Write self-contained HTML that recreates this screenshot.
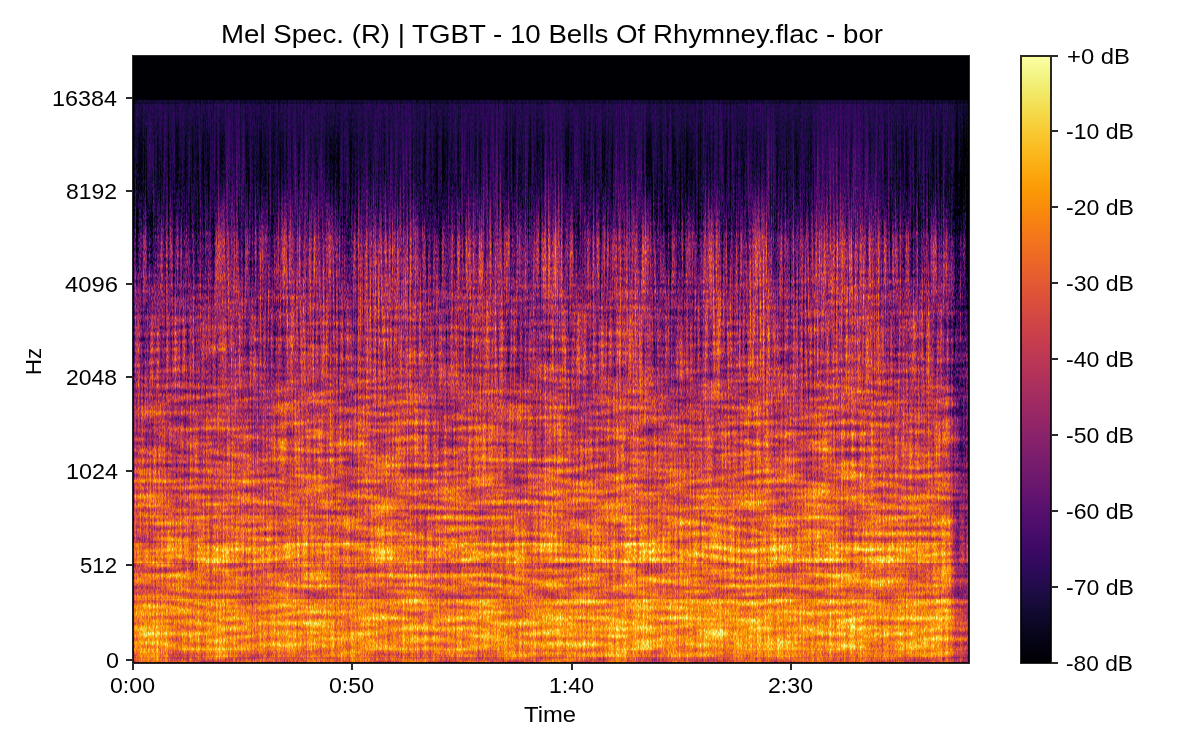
<!DOCTYPE html>
<html><head><meta charset="utf-8"><style>html,body{margin:0;padding:0;background:#fff;width:1200px;height:750px;overflow:hidden}svg{display:block}text{font-family:"Liberation Sans",sans-serif}</style></head>
<body><svg width="1200" height="750" viewBox="0 0 1200 750"><defs><linearGradient id="cb" x1="0" y1="0" x2="0" y2="1"><stop offset="0.0000" stop-color="#fcffa4"/><stop offset="0.0312" stop-color="#f3f586"/><stop offset="0.0625" stop-color="#f2e865"/><stop offset="0.0938" stop-color="#f5d949"/><stop offset="0.1250" stop-color="#f9c932"/><stop offset="0.1562" stop-color="#fbba1f"/><stop offset="0.1875" stop-color="#fcaa0f"/><stop offset="0.2188" stop-color="#fb9b06"/><stop offset="0.2500" stop-color="#f98c0a"/><stop offset="0.2812" stop-color="#f67e14"/><stop offset="0.3125" stop-color="#f1711f"/><stop offset="0.3438" stop-color="#eb6429"/><stop offset="0.3750" stop-color="#e35933"/><stop offset="0.4062" stop-color="#da4e3c"/><stop offset="0.4375" stop-color="#d04545"/><stop offset="0.4688" stop-color="#c63d4d"/><stop offset="0.5000" stop-color="#bc3754"/><stop offset="0.5312" stop-color="#b0315b"/><stop offset="0.5625" stop-color="#a32c61"/><stop offset="0.5938" stop-color="#972766"/><stop offset="0.6250" stop-color="#8a226a"/><stop offset="0.6562" stop-color="#7d1e6d"/><stop offset="0.6875" stop-color="#71196e"/><stop offset="0.7188" stop-color="#64156e"/><stop offset="0.7500" stop-color="#57106e"/><stop offset="0.7812" stop-color="#4a0c6b"/><stop offset="0.8125" stop-color="#3d0965"/><stop offset="0.8438" stop-color="#2f0a5b"/><stop offset="0.8750" stop-color="#210c4a"/><stop offset="0.9062" stop-color="#150b37"/><stop offset="0.9375" stop-color="#0b0724"/><stop offset="0.9688" stop-color="#040312"/><stop offset="1.0000" stop-color="#000004"/></linearGradient><linearGradient id="P" x1="0" y1="0" x2="0" y2="1"><stop offset="0.0000" stop-color="#170000"/><stop offset="0.0071" stop-color="#170000"/><stop offset="0.0089" stop-color="#210000"/><stop offset="0.0311" stop-color="#200000"/><stop offset="0.0719" stop-color="#1c0000"/><stop offset="0.1429" stop-color="#1f0000"/><stop offset="0.1996" stop-color="#2e0000"/><stop offset="0.2280" stop-color="#3b0000"/><stop offset="0.2458" stop-color="#520000"/><stop offset="0.2724" stop-color="#5c0000"/><stop offset="0.3256" stop-color="#660000"/><stop offset="0.4002" stop-color="#6e0000"/><stop offset="0.4889" stop-color="#790000"/><stop offset="0.5776" stop-color="#880000"/><stop offset="0.6664" stop-color="#950000"/><stop offset="0.7107" stop-color="#9e0000"/><stop offset="0.7108" stop-color="#a30000"/><stop offset="0.7285" stop-color="#a30000"/><stop offset="0.7285" stop-color="#940000"/><stop offset="0.7373" stop-color="#940000"/><stop offset="0.7374" stop-color="#a30000"/><stop offset="0.7870" stop-color="#a30000"/><stop offset="0.7871" stop-color="#bd0000"/><stop offset="0.8225" stop-color="#bd0000"/><stop offset="0.8226" stop-color="#9c0000"/><stop offset="0.8403" stop-color="#9c0000"/><stop offset="0.8403" stop-color="#b00000"/><stop offset="0.8651" stop-color="#b00000"/><stop offset="0.8651" stop-color="#a10000"/><stop offset="0.8864" stop-color="#a10000"/><stop offset="0.8864" stop-color="#bb0000"/><stop offset="0.9201" stop-color="#bb0000"/><stop offset="0.9202" stop-color="#c20000"/><stop offset="0.9769" stop-color="#c20000"/><stop offset="0.9769" stop-color="#b30000"/><stop offset="0.9893" stop-color="#b30000"/><stop offset="0.9894" stop-color="#9e0000"/><stop offset="0.9991" stop-color="#9e0000"/></linearGradient><linearGradient id="d0"><stop offset="0.000" stop-color="#008100"/><stop offset="0.050" stop-color="#008100"/><stop offset="0.150" stop-color="#007f00"/><stop offset="0.250" stop-color="#007f00"/><stop offset="0.349" stop-color="#007f00"/><stop offset="0.450" stop-color="#008200"/><stop offset="0.550" stop-color="#008200"/><stop offset="0.650" stop-color="#008000"/><stop offset="0.750" stop-color="#008000"/><stop offset="0.849" stop-color="#008300"/><stop offset="0.950" stop-color="#008100"/><stop offset="1.000" stop-color="#008100"/></linearGradient><linearGradient id="d1"><stop offset="0.000" stop-color="#008100"/><stop offset="0.050" stop-color="#008200"/><stop offset="0.150" stop-color="#007f00"/><stop offset="0.250" stop-color="#007e00"/><stop offset="0.349" stop-color="#007f00"/><stop offset="0.450" stop-color="#008200"/><stop offset="0.550" stop-color="#008300"/><stop offset="0.650" stop-color="#008100"/><stop offset="0.750" stop-color="#008100"/><stop offset="0.849" stop-color="#008300"/><stop offset="0.950" stop-color="#008200"/><stop offset="1.000" stop-color="#008200"/></linearGradient><linearGradient id="d2"><stop offset="0.000" stop-color="#008100"/><stop offset="0.050" stop-color="#008100"/><stop offset="0.150" stop-color="#007f00"/><stop offset="0.250" stop-color="#007e00"/><stop offset="0.349" stop-color="#007f00"/><stop offset="0.450" stop-color="#008200"/><stop offset="0.550" stop-color="#008300"/><stop offset="0.650" stop-color="#008000"/><stop offset="0.750" stop-color="#008200"/><stop offset="0.849" stop-color="#008300"/><stop offset="0.950" stop-color="#008300"/><stop offset="1.000" stop-color="#008300"/></linearGradient><linearGradient id="d3"><stop offset="0.000" stop-color="#008000"/><stop offset="0.050" stop-color="#008100"/><stop offset="0.150" stop-color="#007f00"/><stop offset="0.250" stop-color="#007d00"/><stop offset="0.349" stop-color="#007e00"/><stop offset="0.450" stop-color="#008200"/><stop offset="0.550" stop-color="#008300"/><stop offset="0.650" stop-color="#007f00"/><stop offset="0.750" stop-color="#008300"/><stop offset="0.849" stop-color="#008400"/><stop offset="0.950" stop-color="#008300"/><stop offset="1.000" stop-color="#008300"/></linearGradient><linearGradient id="d4"><stop offset="0.000" stop-color="#007f00"/><stop offset="0.050" stop-color="#008000"/><stop offset="0.150" stop-color="#007f00"/><stop offset="0.250" stop-color="#007d00"/><stop offset="0.349" stop-color="#007d00"/><stop offset="0.450" stop-color="#008200"/><stop offset="0.550" stop-color="#008300"/><stop offset="0.650" stop-color="#007e00"/><stop offset="0.750" stop-color="#008400"/><stop offset="0.849" stop-color="#008500"/><stop offset="0.950" stop-color="#008300"/><stop offset="1.000" stop-color="#008300"/></linearGradient><linearGradient id="d5"><stop offset="0.000" stop-color="#007e00"/><stop offset="0.050" stop-color="#007f00"/><stop offset="0.150" stop-color="#007f00"/><stop offset="0.250" stop-color="#007d00"/><stop offset="0.349" stop-color="#007c00"/><stop offset="0.450" stop-color="#008300"/><stop offset="0.550" stop-color="#008400"/><stop offset="0.650" stop-color="#007e00"/><stop offset="0.750" stop-color="#008500"/><stop offset="0.849" stop-color="#008500"/><stop offset="0.950" stop-color="#008400"/><stop offset="1.000" stop-color="#008400"/></linearGradient><linearGradient id="d6"><stop offset="0.000" stop-color="#007d00"/><stop offset="0.050" stop-color="#007e00"/><stop offset="0.150" stop-color="#008000"/><stop offset="0.250" stop-color="#007d00"/><stop offset="0.349" stop-color="#007c00"/><stop offset="0.450" stop-color="#008400"/><stop offset="0.550" stop-color="#008500"/><stop offset="0.650" stop-color="#007d00"/><stop offset="0.750" stop-color="#008500"/><stop offset="0.849" stop-color="#008500"/><stop offset="0.950" stop-color="#008300"/><stop offset="1.000" stop-color="#008300"/></linearGradient><linearGradient id="d7"><stop offset="0.000" stop-color="#007c00"/><stop offset="0.050" stop-color="#007d00"/><stop offset="0.150" stop-color="#008200"/><stop offset="0.250" stop-color="#007d00"/><stop offset="0.349" stop-color="#007c00"/><stop offset="0.450" stop-color="#008500"/><stop offset="0.550" stop-color="#008700"/><stop offset="0.650" stop-color="#007d00"/><stop offset="0.750" stop-color="#008600"/><stop offset="0.849" stop-color="#008500"/><stop offset="0.950" stop-color="#008300"/><stop offset="1.000" stop-color="#008300"/></linearGradient><linearGradient id="d8"><stop offset="0.000" stop-color="#007b00"/><stop offset="0.050" stop-color="#007c00"/><stop offset="0.150" stop-color="#008300"/><stop offset="0.250" stop-color="#007d00"/><stop offset="0.349" stop-color="#007c00"/><stop offset="0.450" stop-color="#008700"/><stop offset="0.550" stop-color="#008800"/><stop offset="0.650" stop-color="#007d00"/><stop offset="0.750" stop-color="#008600"/><stop offset="0.849" stop-color="#008500"/><stop offset="0.950" stop-color="#008300"/><stop offset="1.000" stop-color="#008300"/></linearGradient><linearGradient id="d9"><stop offset="0.000" stop-color="#007a00"/><stop offset="0.050" stop-color="#007b00"/><stop offset="0.150" stop-color="#008300"/><stop offset="0.250" stop-color="#007d00"/><stop offset="0.349" stop-color="#007c00"/><stop offset="0.450" stop-color="#008700"/><stop offset="0.550" stop-color="#008a00"/><stop offset="0.650" stop-color="#007e00"/><stop offset="0.750" stop-color="#008700"/><stop offset="0.849" stop-color="#008400"/><stop offset="0.950" stop-color="#008400"/><stop offset="1.000" stop-color="#008400"/></linearGradient><linearGradient id="d10"><stop offset="0.000" stop-color="#007900"/><stop offset="0.050" stop-color="#007b00"/><stop offset="0.150" stop-color="#008200"/><stop offset="0.250" stop-color="#007d00"/><stop offset="0.349" stop-color="#007c00"/><stop offset="0.450" stop-color="#008700"/><stop offset="0.550" stop-color="#008b00"/><stop offset="0.650" stop-color="#007f00"/><stop offset="0.750" stop-color="#008800"/><stop offset="0.849" stop-color="#008400"/><stop offset="0.950" stop-color="#008400"/><stop offset="1.000" stop-color="#008400"/></linearGradient><linearGradient id="d11"><stop offset="0.000" stop-color="#007700"/><stop offset="0.050" stop-color="#007900"/><stop offset="0.150" stop-color="#008100"/><stop offset="0.250" stop-color="#007d00"/><stop offset="0.349" stop-color="#007c00"/><stop offset="0.450" stop-color="#008600"/><stop offset="0.550" stop-color="#008d00"/><stop offset="0.650" stop-color="#008000"/><stop offset="0.750" stop-color="#008900"/><stop offset="0.849" stop-color="#008400"/><stop offset="0.950" stop-color="#008500"/><stop offset="1.000" stop-color="#008500"/></linearGradient><linearGradient id="d12"><stop offset="0.000" stop-color="#007600"/><stop offset="0.050" stop-color="#007800"/><stop offset="0.150" stop-color="#007f00"/><stop offset="0.250" stop-color="#007e00"/><stop offset="0.349" stop-color="#007c00"/><stop offset="0.450" stop-color="#008500"/><stop offset="0.550" stop-color="#008e00"/><stop offset="0.650" stop-color="#008100"/><stop offset="0.750" stop-color="#008a00"/><stop offset="0.849" stop-color="#008400"/><stop offset="0.950" stop-color="#008400"/><stop offset="1.000" stop-color="#008500"/></linearGradient><linearGradient id="d13"><stop offset="0.000" stop-color="#007500"/><stop offset="0.050" stop-color="#007700"/><stop offset="0.150" stop-color="#007e00"/><stop offset="0.250" stop-color="#007e00"/><stop offset="0.349" stop-color="#007c00"/><stop offset="0.450" stop-color="#008500"/><stop offset="0.550" stop-color="#008e00"/><stop offset="0.650" stop-color="#008100"/><stop offset="0.750" stop-color="#008b00"/><stop offset="0.849" stop-color="#008400"/><stop offset="0.950" stop-color="#008500"/><stop offset="1.000" stop-color="#008500"/></linearGradient><linearGradient id="d14"><stop offset="0.000" stop-color="#007700"/><stop offset="0.050" stop-color="#007900"/><stop offset="0.150" stop-color="#007e00"/><stop offset="0.250" stop-color="#007d00"/><stop offset="0.349" stop-color="#007e00"/><stop offset="0.450" stop-color="#008300"/><stop offset="0.550" stop-color="#008b00"/><stop offset="0.650" stop-color="#008000"/><stop offset="0.750" stop-color="#008b00"/><stop offset="0.849" stop-color="#008200"/><stop offset="0.950" stop-color="#008600"/><stop offset="1.000" stop-color="#008600"/></linearGradient><linearGradient id="d15"><stop offset="0.000" stop-color="#007800"/><stop offset="0.050" stop-color="#007a00"/><stop offset="0.150" stop-color="#007d00"/><stop offset="0.250" stop-color="#007c00"/><stop offset="0.349" stop-color="#008000"/><stop offset="0.450" stop-color="#008200"/><stop offset="0.550" stop-color="#008900"/><stop offset="0.650" stop-color="#007f00"/><stop offset="0.750" stop-color="#008b00"/><stop offset="0.849" stop-color="#008100"/><stop offset="0.950" stop-color="#008700"/><stop offset="1.000" stop-color="#008700"/></linearGradient><linearGradient id="d16"><stop offset="0.000" stop-color="#007a00"/><stop offset="0.050" stop-color="#007b00"/><stop offset="0.150" stop-color="#007c00"/><stop offset="0.250" stop-color="#007b00"/><stop offset="0.349" stop-color="#008300"/><stop offset="0.450" stop-color="#008100"/><stop offset="0.550" stop-color="#008600"/><stop offset="0.650" stop-color="#007e00"/><stop offset="0.750" stop-color="#008c00"/><stop offset="0.849" stop-color="#008000"/><stop offset="0.950" stop-color="#008900"/><stop offset="1.000" stop-color="#008900"/></linearGradient><linearGradient id="d17"><stop offset="0.000" stop-color="#007a00"/><stop offset="0.050" stop-color="#007c00"/><stop offset="0.150" stop-color="#007c00"/><stop offset="0.250" stop-color="#007b00"/><stop offset="0.349" stop-color="#008400"/><stop offset="0.450" stop-color="#008000"/><stop offset="0.550" stop-color="#008400"/><stop offset="0.650" stop-color="#007e00"/><stop offset="0.750" stop-color="#008c00"/><stop offset="0.849" stop-color="#007f00"/><stop offset="0.950" stop-color="#008900"/><stop offset="1.000" stop-color="#008900"/></linearGradient><linearGradient id="d18"><stop offset="0.000" stop-color="#007a00"/><stop offset="0.050" stop-color="#007b00"/><stop offset="0.150" stop-color="#007b00"/><stop offset="0.250" stop-color="#007c00"/><stop offset="0.349" stop-color="#008300"/><stop offset="0.450" stop-color="#007f00"/><stop offset="0.550" stop-color="#008400"/><stop offset="0.650" stop-color="#007d00"/><stop offset="0.750" stop-color="#008c00"/><stop offset="0.849" stop-color="#007f00"/><stop offset="0.950" stop-color="#008900"/><stop offset="1.000" stop-color="#008900"/></linearGradient><linearGradient id="d19"><stop offset="0.000" stop-color="#007900"/><stop offset="0.050" stop-color="#007b00"/><stop offset="0.150" stop-color="#007b00"/><stop offset="0.250" stop-color="#007d00"/><stop offset="0.349" stop-color="#008200"/><stop offset="0.450" stop-color="#007e00"/><stop offset="0.550" stop-color="#008400"/><stop offset="0.650" stop-color="#007d00"/><stop offset="0.750" stop-color="#008b00"/><stop offset="0.849" stop-color="#008000"/><stop offset="0.950" stop-color="#008900"/><stop offset="1.000" stop-color="#008900"/></linearGradient><linearGradient id="d20"><stop offset="0.000" stop-color="#007900"/><stop offset="0.050" stop-color="#007a00"/><stop offset="0.150" stop-color="#007a00"/><stop offset="0.250" stop-color="#007d00"/><stop offset="0.349" stop-color="#008200"/><stop offset="0.450" stop-color="#007e00"/><stop offset="0.550" stop-color="#008400"/><stop offset="0.650" stop-color="#007d00"/><stop offset="0.750" stop-color="#008b00"/><stop offset="0.849" stop-color="#008000"/><stop offset="0.950" stop-color="#008900"/><stop offset="1.000" stop-color="#008900"/></linearGradient><linearGradient id="d21"><stop offset="0.000" stop-color="#007900"/><stop offset="0.050" stop-color="#007a00"/><stop offset="0.150" stop-color="#007a00"/><stop offset="0.250" stop-color="#007e00"/><stop offset="0.349" stop-color="#008100"/><stop offset="0.450" stop-color="#007e00"/><stop offset="0.550" stop-color="#008400"/><stop offset="0.650" stop-color="#007d00"/><stop offset="0.750" stop-color="#008a00"/><stop offset="0.849" stop-color="#008100"/><stop offset="0.950" stop-color="#008900"/><stop offset="1.000" stop-color="#008900"/></linearGradient><linearGradient id="d22"><stop offset="0.000" stop-color="#007900"/><stop offset="0.050" stop-color="#007a00"/><stop offset="0.150" stop-color="#007a00"/><stop offset="0.250" stop-color="#007f00"/><stop offset="0.349" stop-color="#008100"/><stop offset="0.450" stop-color="#007e00"/><stop offset="0.550" stop-color="#008500"/><stop offset="0.650" stop-color="#007d00"/><stop offset="0.750" stop-color="#008a00"/><stop offset="0.849" stop-color="#008000"/><stop offset="0.950" stop-color="#008800"/><stop offset="1.000" stop-color="#008800"/></linearGradient><linearGradient id="d23"><stop offset="0.000" stop-color="#007900"/><stop offset="0.050" stop-color="#007b00"/><stop offset="0.150" stop-color="#007a00"/><stop offset="0.250" stop-color="#008000"/><stop offset="0.349" stop-color="#008000"/><stop offset="0.450" stop-color="#007f00"/><stop offset="0.550" stop-color="#008500"/><stop offset="0.650" stop-color="#007d00"/><stop offset="0.750" stop-color="#008900"/><stop offset="0.849" stop-color="#008000"/><stop offset="0.950" stop-color="#008800"/><stop offset="1.000" stop-color="#008800"/></linearGradient><linearGradient id="d24"><stop offset="0.000" stop-color="#007a00"/><stop offset="0.050" stop-color="#007b00"/><stop offset="0.150" stop-color="#007a00"/><stop offset="0.250" stop-color="#008100"/><stop offset="0.349" stop-color="#007f00"/><stop offset="0.450" stop-color="#007f00"/><stop offset="0.550" stop-color="#008600"/><stop offset="0.650" stop-color="#007e00"/><stop offset="0.750" stop-color="#008800"/><stop offset="0.849" stop-color="#008000"/><stop offset="0.950" stop-color="#008700"/><stop offset="1.000" stop-color="#008700"/></linearGradient><linearGradient id="d25"><stop offset="0.000" stop-color="#007a00"/><stop offset="0.050" stop-color="#007b00"/><stop offset="0.150" stop-color="#007a00"/><stop offset="0.250" stop-color="#008100"/><stop offset="0.349" stop-color="#007f00"/><stop offset="0.450" stop-color="#008000"/><stop offset="0.550" stop-color="#008600"/><stop offset="0.650" stop-color="#007e00"/><stop offset="0.750" stop-color="#008700"/><stop offset="0.849" stop-color="#008000"/><stop offset="0.950" stop-color="#008600"/><stop offset="1.000" stop-color="#008600"/></linearGradient><linearGradient id="d26"><stop offset="0.000" stop-color="#007900"/><stop offset="0.050" stop-color="#007a00"/><stop offset="0.150" stop-color="#007c00"/><stop offset="0.250" stop-color="#008100"/><stop offset="0.349" stop-color="#007f00"/><stop offset="0.450" stop-color="#008100"/><stop offset="0.550" stop-color="#008500"/><stop offset="0.650" stop-color="#007d00"/><stop offset="0.750" stop-color="#008600"/><stop offset="0.849" stop-color="#007f00"/><stop offset="0.950" stop-color="#008600"/><stop offset="1.000" stop-color="#008600"/></linearGradient><linearGradient id="d27"><stop offset="0.000" stop-color="#007900"/><stop offset="0.050" stop-color="#007a00"/><stop offset="0.150" stop-color="#007d00"/><stop offset="0.250" stop-color="#008000"/><stop offset="0.349" stop-color="#007f00"/><stop offset="0.450" stop-color="#008100"/><stop offset="0.550" stop-color="#008400"/><stop offset="0.650" stop-color="#007d00"/><stop offset="0.750" stop-color="#008500"/><stop offset="0.849" stop-color="#007f00"/><stop offset="0.950" stop-color="#008500"/><stop offset="1.000" stop-color="#008500"/></linearGradient><linearGradient id="d28"><stop offset="0.000" stop-color="#007900"/><stop offset="0.050" stop-color="#007a00"/><stop offset="0.150" stop-color="#007e00"/><stop offset="0.250" stop-color="#008000"/><stop offset="0.349" stop-color="#007f00"/><stop offset="0.450" stop-color="#008200"/><stop offset="0.550" stop-color="#008300"/><stop offset="0.650" stop-color="#007d00"/><stop offset="0.750" stop-color="#008400"/><stop offset="0.849" stop-color="#007f00"/><stop offset="0.950" stop-color="#008500"/><stop offset="1.000" stop-color="#008500"/></linearGradient><linearGradient id="d29"><stop offset="0.000" stop-color="#007900"/><stop offset="0.050" stop-color="#007a00"/><stop offset="0.150" stop-color="#007f00"/><stop offset="0.250" stop-color="#007f00"/><stop offset="0.349" stop-color="#007f00"/><stop offset="0.450" stop-color="#008100"/><stop offset="0.550" stop-color="#008300"/><stop offset="0.650" stop-color="#007e00"/><stop offset="0.750" stop-color="#008400"/><stop offset="0.849" stop-color="#007f00"/><stop offset="0.950" stop-color="#008500"/><stop offset="1.000" stop-color="#008500"/></linearGradient><linearGradient id="d30"><stop offset="0.000" stop-color="#007b00"/><stop offset="0.050" stop-color="#007c00"/><stop offset="0.150" stop-color="#007e00"/><stop offset="0.250" stop-color="#007d00"/><stop offset="0.349" stop-color="#007e00"/><stop offset="0.450" stop-color="#008000"/><stop offset="0.550" stop-color="#008300"/><stop offset="0.650" stop-color="#008000"/><stop offset="0.750" stop-color="#008400"/><stop offset="0.849" stop-color="#007f00"/><stop offset="0.950" stop-color="#008600"/><stop offset="1.000" stop-color="#008600"/></linearGradient><linearGradient id="d31"><stop offset="0.000" stop-color="#007c00"/><stop offset="0.050" stop-color="#007d00"/><stop offset="0.150" stop-color="#007d00"/><stop offset="0.250" stop-color="#007c00"/><stop offset="0.349" stop-color="#007d00"/><stop offset="0.450" stop-color="#007e00"/><stop offset="0.550" stop-color="#008400"/><stop offset="0.650" stop-color="#008200"/><stop offset="0.750" stop-color="#008500"/><stop offset="0.849" stop-color="#008000"/><stop offset="0.950" stop-color="#008600"/><stop offset="1.000" stop-color="#008600"/></linearGradient><linearGradient id="d32"><stop offset="0.000" stop-color="#007e00"/><stop offset="0.050" stop-color="#007e00"/><stop offset="0.150" stop-color="#007c00"/><stop offset="0.250" stop-color="#007b00"/><stop offset="0.349" stop-color="#007c00"/><stop offset="0.450" stop-color="#007c00"/><stop offset="0.550" stop-color="#008400"/><stop offset="0.650" stop-color="#008400"/><stop offset="0.750" stop-color="#008500"/><stop offset="0.849" stop-color="#008000"/><stop offset="0.950" stop-color="#008700"/><stop offset="1.000" stop-color="#008700"/></linearGradient><linearGradient id="d33"><stop offset="0.000" stop-color="#007e00"/><stop offset="0.050" stop-color="#007f00"/><stop offset="0.150" stop-color="#007b00"/><stop offset="0.250" stop-color="#007a00"/><stop offset="0.349" stop-color="#007b00"/><stop offset="0.450" stop-color="#007c00"/><stop offset="0.550" stop-color="#008400"/><stop offset="0.650" stop-color="#008500"/><stop offset="0.750" stop-color="#008500"/><stop offset="0.849" stop-color="#008100"/><stop offset="0.950" stop-color="#008700"/><stop offset="1.000" stop-color="#008700"/></linearGradient><linearGradient id="d34"><stop offset="0.000" stop-color="#007e00"/><stop offset="0.050" stop-color="#007f00"/><stop offset="0.150" stop-color="#007b00"/><stop offset="0.250" stop-color="#007a00"/><stop offset="0.349" stop-color="#007b00"/><stop offset="0.450" stop-color="#007c00"/><stop offset="0.550" stop-color="#008400"/><stop offset="0.650" stop-color="#008500"/><stop offset="0.750" stop-color="#008500"/><stop offset="0.849" stop-color="#008100"/><stop offset="0.950" stop-color="#008700"/><stop offset="1.000" stop-color="#008700"/></linearGradient><linearGradient id="d35"><stop offset="0.000" stop-color="#007e00"/><stop offset="0.050" stop-color="#007f00"/><stop offset="0.150" stop-color="#007b00"/><stop offset="0.250" stop-color="#007a00"/><stop offset="0.349" stop-color="#007b00"/><stop offset="0.450" stop-color="#007c00"/><stop offset="0.550" stop-color="#008400"/><stop offset="0.650" stop-color="#008500"/><stop offset="0.750" stop-color="#008500"/><stop offset="0.849" stop-color="#008100"/><stop offset="0.950" stop-color="#008700"/><stop offset="1.000" stop-color="#008700"/></linearGradient><linearGradient id="d36"><stop offset="0.000" stop-color="#007e00"/><stop offset="0.050" stop-color="#007e00"/><stop offset="0.150" stop-color="#007b00"/><stop offset="0.250" stop-color="#007a00"/><stop offset="0.349" stop-color="#007b00"/><stop offset="0.450" stop-color="#007c00"/><stop offset="0.550" stop-color="#008400"/><stop offset="0.650" stop-color="#008500"/><stop offset="0.750" stop-color="#008500"/><stop offset="0.849" stop-color="#008100"/><stop offset="0.950" stop-color="#008700"/><stop offset="1.000" stop-color="#008700"/></linearGradient><linearGradient id="d37"><stop offset="0.000" stop-color="#007e00"/><stop offset="0.050" stop-color="#007e00"/><stop offset="0.150" stop-color="#007b00"/><stop offset="0.250" stop-color="#007a00"/><stop offset="0.349" stop-color="#007b00"/><stop offset="0.450" stop-color="#007c00"/><stop offset="0.550" stop-color="#008400"/><stop offset="0.650" stop-color="#008500"/><stop offset="0.750" stop-color="#008500"/><stop offset="0.849" stop-color="#008100"/><stop offset="0.950" stop-color="#008700"/><stop offset="1.000" stop-color="#008700"/></linearGradient><linearGradient id="d38"><stop offset="0.000" stop-color="#007e00"/><stop offset="0.050" stop-color="#007e00"/><stop offset="0.150" stop-color="#007b00"/><stop offset="0.250" stop-color="#007a00"/><stop offset="0.349" stop-color="#007b00"/><stop offset="0.450" stop-color="#007c00"/><stop offset="0.550" stop-color="#008400"/><stop offset="0.650" stop-color="#008500"/><stop offset="0.750" stop-color="#008500"/><stop offset="0.849" stop-color="#008100"/><stop offset="0.950" stop-color="#008700"/><stop offset="1.000" stop-color="#008700"/></linearGradient><linearGradient id="d39"><stop offset="0.000" stop-color="#007e00"/><stop offset="0.050" stop-color="#007e00"/><stop offset="0.150" stop-color="#007b00"/><stop offset="0.250" stop-color="#007a00"/><stop offset="0.349" stop-color="#007b00"/><stop offset="0.450" stop-color="#007c00"/><stop offset="0.550" stop-color="#008400"/><stop offset="0.650" stop-color="#008500"/><stop offset="0.750" stop-color="#008500"/><stop offset="0.849" stop-color="#008100"/><stop offset="0.950" stop-color="#008700"/><stop offset="1.000" stop-color="#008700"/></linearGradient><linearGradient id="d40"><stop offset="0.000" stop-color="#007e00"/><stop offset="0.050" stop-color="#007e00"/><stop offset="0.150" stop-color="#007b00"/><stop offset="0.250" stop-color="#007a00"/><stop offset="0.349" stop-color="#007b00"/><stop offset="0.450" stop-color="#007c00"/><stop offset="0.550" stop-color="#008400"/><stop offset="0.650" stop-color="#008500"/><stop offset="0.750" stop-color="#008500"/><stop offset="0.849" stop-color="#008100"/><stop offset="0.950" stop-color="#008700"/><stop offset="1.000" stop-color="#008700"/></linearGradient><linearGradient id="d41"><stop offset="0.000" stop-color="#007e00"/><stop offset="0.050" stop-color="#007e00"/><stop offset="0.150" stop-color="#007b00"/><stop offset="0.250" stop-color="#007a00"/><stop offset="0.349" stop-color="#007b00"/><stop offset="0.450" stop-color="#007c00"/><stop offset="0.550" stop-color="#008400"/><stop offset="0.650" stop-color="#008500"/><stop offset="0.750" stop-color="#008500"/><stop offset="0.849" stop-color="#008100"/><stop offset="0.950" stop-color="#008700"/><stop offset="1.000" stop-color="#008700"/></linearGradient><linearGradient id="d42"><stop offset="0.000" stop-color="#007e00"/><stop offset="0.050" stop-color="#007e00"/><stop offset="0.150" stop-color="#007b00"/><stop offset="0.250" stop-color="#007a00"/><stop offset="0.349" stop-color="#007b00"/><stop offset="0.450" stop-color="#007c00"/><stop offset="0.550" stop-color="#008400"/><stop offset="0.650" stop-color="#008500"/><stop offset="0.750" stop-color="#008500"/><stop offset="0.849" stop-color="#008100"/><stop offset="0.950" stop-color="#008700"/><stop offset="1.000" stop-color="#008700"/></linearGradient><linearGradient id="d43"><stop offset="0.000" stop-color="#007e00"/><stop offset="0.050" stop-color="#007e00"/><stop offset="0.150" stop-color="#007b00"/><stop offset="0.250" stop-color="#007a00"/><stop offset="0.349" stop-color="#007b00"/><stop offset="0.450" stop-color="#007c00"/><stop offset="0.550" stop-color="#008400"/><stop offset="0.650" stop-color="#008500"/><stop offset="0.750" stop-color="#008500"/><stop offset="0.849" stop-color="#008100"/><stop offset="0.950" stop-color="#008700"/><stop offset="1.000" stop-color="#008700"/></linearGradient><linearGradient id="d44"><stop offset="0.000" stop-color="#007e00"/><stop offset="0.050" stop-color="#007e00"/><stop offset="0.150" stop-color="#007b00"/><stop offset="0.250" stop-color="#007a00"/><stop offset="0.349" stop-color="#007b00"/><stop offset="0.450" stop-color="#007c00"/><stop offset="0.550" stop-color="#008400"/><stop offset="0.650" stop-color="#008500"/><stop offset="0.750" stop-color="#008500"/><stop offset="0.849" stop-color="#008100"/><stop offset="0.950" stop-color="#008700"/><stop offset="1.000" stop-color="#008700"/></linearGradient><linearGradient id="d45"><stop offset="0.000" stop-color="#007e00"/><stop offset="0.050" stop-color="#007e00"/><stop offset="0.150" stop-color="#007b00"/><stop offset="0.250" stop-color="#007a00"/><stop offset="0.349" stop-color="#007b00"/><stop offset="0.450" stop-color="#007c00"/><stop offset="0.550" stop-color="#008400"/><stop offset="0.650" stop-color="#008500"/><stop offset="0.750" stop-color="#008500"/><stop offset="0.849" stop-color="#008100"/><stop offset="0.950" stop-color="#008600"/><stop offset="1.000" stop-color="#008600"/></linearGradient><linearGradient id="d46"><stop offset="0.000" stop-color="#007e00"/><stop offset="0.050" stop-color="#007e00"/><stop offset="0.150" stop-color="#007b00"/><stop offset="0.250" stop-color="#007a00"/><stop offset="0.349" stop-color="#007b00"/><stop offset="0.450" stop-color="#007c00"/><stop offset="0.550" stop-color="#008400"/><stop offset="0.650" stop-color="#008500"/><stop offset="0.750" stop-color="#008500"/><stop offset="0.849" stop-color="#008100"/><stop offset="0.950" stop-color="#008600"/><stop offset="1.000" stop-color="#008600"/></linearGradient><linearGradient id="Wg" x1="0" y1="0" x2="0" y2="1"><stop offset="0.0000" stop-color="#000a00"/><stop offset="0.0541" stop-color="#001a00"/><stop offset="0.1429" stop-color="#003800"/><stop offset="0.2316" stop-color="#005c00"/><stop offset="0.2848" stop-color="#006600"/><stop offset="0.4091" stop-color="#004700"/><stop offset="0.5688" stop-color="#002900"/><stop offset="0.7107" stop-color="#001a00"/><stop offset="0.9991" stop-color="#001400"/></linearGradient><linearGradient id="Wb" x1="0" y1="0" x2="0" y2="1"><stop offset="0.0000" stop-color="#00000a"/><stop offset="0.0541" stop-color="#00001a"/><stop offset="0.1429" stop-color="#000038"/><stop offset="0.2316" stop-color="#00005c"/><stop offset="0.2848" stop-color="#000066"/><stop offset="0.4091" stop-color="#000047"/><stop offset="0.5688" stop-color="#000029"/><stop offset="0.7107" stop-color="#00001a"/><stop offset="0.9991" stop-color="#000014"/></linearGradient><linearGradient id="Fb" x1="0" y1="0" x2="0" y2="1"><stop offset="0.0000" stop-color="#00001f"/><stop offset="0.1783" stop-color="#00007a"/><stop offset="0.2848" stop-color="#0000e0"/><stop offset="0.6220" stop-color="#0000ff"/><stop offset="0.8882" stop-color="#0000ff"/><stop offset="0.9991" stop-color="#0000cc"/></linearGradient><g id="sc"><rect x="133" y="99.5" width="836" height="563.5" fill="url(#P)"/><rect x="133" y="99.5" width="836" height="12.0" fill="url(#d0)" style="mix-blend-mode:plus-lighter"/><rect x="133" y="111.5" width="836" height="12.0" fill="url(#d1)" style="mix-blend-mode:plus-lighter"/><rect x="133" y="123.5" width="836" height="12.0" fill="url(#d2)" style="mix-blend-mode:plus-lighter"/><rect x="133" y="135.5" width="836" height="12.0" fill="url(#d3)" style="mix-blend-mode:plus-lighter"/><rect x="133" y="147.5" width="836" height="12.0" fill="url(#d4)" style="mix-blend-mode:plus-lighter"/><rect x="133" y="159.5" width="836" height="12.0" fill="url(#d5)" style="mix-blend-mode:plus-lighter"/><rect x="133" y="171.5" width="836" height="12.0" fill="url(#d6)" style="mix-blend-mode:plus-lighter"/><rect x="133" y="183.5" width="836" height="12.0" fill="url(#d7)" style="mix-blend-mode:plus-lighter"/><rect x="133" y="195.5" width="836" height="12.0" fill="url(#d8)" style="mix-blend-mode:plus-lighter"/><rect x="133" y="207.5" width="836" height="12.0" fill="url(#d9)" style="mix-blend-mode:plus-lighter"/><rect x="133" y="219.5" width="836" height="12.0" fill="url(#d10)" style="mix-blend-mode:plus-lighter"/><rect x="133" y="231.5" width="836" height="12.0" fill="url(#d11)" style="mix-blend-mode:plus-lighter"/><rect x="133" y="243.5" width="836" height="12.0" fill="url(#d12)" style="mix-blend-mode:plus-lighter"/><rect x="133" y="255.5" width="836" height="12.0" fill="url(#d13)" style="mix-blend-mode:plus-lighter"/><rect x="133" y="267.5" width="836" height="12.0" fill="url(#d14)" style="mix-blend-mode:plus-lighter"/><rect x="133" y="279.5" width="836" height="12.0" fill="url(#d15)" style="mix-blend-mode:plus-lighter"/><rect x="133" y="291.5" width="836" height="12.0" fill="url(#d16)" style="mix-blend-mode:plus-lighter"/><rect x="133" y="303.5" width="836" height="12.0" fill="url(#d17)" style="mix-blend-mode:plus-lighter"/><rect x="133" y="315.5" width="836" height="12.0" fill="url(#d18)" style="mix-blend-mode:plus-lighter"/><rect x="133" y="327.5" width="836" height="12.0" fill="url(#d19)" style="mix-blend-mode:plus-lighter"/><rect x="133" y="339.5" width="836" height="12.0" fill="url(#d20)" style="mix-blend-mode:plus-lighter"/><rect x="133" y="351.5" width="836" height="12.0" fill="url(#d21)" style="mix-blend-mode:plus-lighter"/><rect x="133" y="363.5" width="836" height="12.0" fill="url(#d22)" style="mix-blend-mode:plus-lighter"/><rect x="133" y="375.5" width="836" height="12.0" fill="url(#d23)" style="mix-blend-mode:plus-lighter"/><rect x="133" y="387.5" width="836" height="12.0" fill="url(#d24)" style="mix-blend-mode:plus-lighter"/><rect x="133" y="399.5" width="836" height="12.0" fill="url(#d25)" style="mix-blend-mode:plus-lighter"/><rect x="133" y="411.5" width="836" height="12.0" fill="url(#d26)" style="mix-blend-mode:plus-lighter"/><rect x="133" y="423.5" width="836" height="12.0" fill="url(#d27)" style="mix-blend-mode:plus-lighter"/><rect x="133" y="435.5" width="836" height="12.0" fill="url(#d28)" style="mix-blend-mode:plus-lighter"/><rect x="133" y="447.5" width="836" height="12.0" fill="url(#d29)" style="mix-blend-mode:plus-lighter"/><rect x="133" y="459.5" width="836" height="12.0" fill="url(#d30)" style="mix-blend-mode:plus-lighter"/><rect x="133" y="471.5" width="836" height="12.0" fill="url(#d31)" style="mix-blend-mode:plus-lighter"/><rect x="133" y="483.5" width="836" height="12.0" fill="url(#d32)" style="mix-blend-mode:plus-lighter"/><rect x="133" y="495.5" width="836" height="12.0" fill="url(#d33)" style="mix-blend-mode:plus-lighter"/><rect x="133" y="507.5" width="836" height="12.0" fill="url(#d34)" style="mix-blend-mode:plus-lighter"/><rect x="133" y="519.5" width="836" height="12.0" fill="url(#d35)" style="mix-blend-mode:plus-lighter"/><rect x="133" y="531.5" width="836" height="12.0" fill="url(#d36)" style="mix-blend-mode:plus-lighter"/><rect x="133" y="543.5" width="836" height="12.0" fill="url(#d37)" style="mix-blend-mode:plus-lighter"/><rect x="133" y="555.5" width="836" height="12.0" fill="url(#d38)" style="mix-blend-mode:plus-lighter"/><rect x="133" y="567.5" width="836" height="12.0" fill="url(#d39)" style="mix-blend-mode:plus-lighter"/><rect x="133" y="579.5" width="836" height="12.0" fill="url(#d40)" style="mix-blend-mode:plus-lighter"/><rect x="133" y="591.5" width="836" height="12.0" fill="url(#d41)" style="mix-blend-mode:plus-lighter"/><rect x="133" y="603.5" width="836" height="12.0" fill="url(#d42)" style="mix-blend-mode:plus-lighter"/><rect x="133" y="615.5" width="836" height="12.0" fill="url(#d43)" style="mix-blend-mode:plus-lighter"/><rect x="133" y="627.5" width="836" height="12.0" fill="url(#d44)" style="mix-blend-mode:plus-lighter"/><rect x="133" y="639.5" width="836" height="12.0" fill="url(#d45)" style="mix-blend-mode:plus-lighter"/><rect x="133" y="651.5" width="836" height="11.5" fill="url(#d46)" style="mix-blend-mode:plus-lighter"/><rect x="133.0" y="99.5" width="3" height="563.5" fill="url(#Wb)" fill-opacity="0.150" style="mix-blend-mode:plus-lighter"/><rect x="136.0" y="99.5" width="3" height="563.5" fill="url(#Wb)" fill-opacity="0.150" style="mix-blend-mode:plus-lighter"/><rect x="139.0" y="99.5" width="3" height="563.5" fill="url(#Wb)" fill-opacity="0.150" style="mix-blend-mode:plus-lighter"/><rect x="142.0" y="99.5" width="3" height="563.5" fill="url(#Wb)" fill-opacity="0.150" style="mix-blend-mode:plus-lighter"/><rect x="145.0" y="99.5" width="3" height="563.5" fill="url(#Wb)" fill-opacity="0.150" style="mix-blend-mode:plus-lighter"/><rect x="148.0" y="99.5" width="3" height="563.5" fill="url(#Wb)" fill-opacity="0.121" style="mix-blend-mode:plus-lighter"/><rect x="151.0" y="99.5" width="3" height="563.5" fill="url(#Wb)" fill-opacity="0.087" style="mix-blend-mode:plus-lighter"/><rect x="154.0" y="99.5" width="3" height="563.5" fill="url(#Wb)" fill-opacity="0.052" style="mix-blend-mode:plus-lighter"/><rect x="157.0" y="99.5" width="3" height="563.5" fill="url(#Wb)" fill-opacity="0.017" style="mix-blend-mode:plus-lighter"/><rect x="160.0" y="99.5" width="3" height="563.5" fill="url(#Wb)" fill-opacity="0.013" style="mix-blend-mode:plus-lighter"/><rect x="163.0" y="99.5" width="3" height="563.5" fill="url(#Wb)" fill-opacity="0.037" style="mix-blend-mode:plus-lighter"/><rect x="166.0" y="99.5" width="3" height="563.5" fill="url(#Wb)" fill-opacity="0.062" style="mix-blend-mode:plus-lighter"/><rect x="169.0" y="99.5" width="3" height="563.5" fill="url(#Wb)" fill-opacity="0.087" style="mix-blend-mode:plus-lighter"/><rect x="172.0" y="99.5" width="3" height="563.5" fill="url(#Wb)" fill-opacity="0.113" style="mix-blend-mode:plus-lighter"/><rect x="175.0" y="99.5" width="3" height="563.5" fill="url(#Wb)" fill-opacity="0.138" style="mix-blend-mode:plus-lighter"/><rect x="178.0" y="99.5" width="3" height="563.5" fill="url(#Wb)" fill-opacity="0.150" style="mix-blend-mode:plus-lighter"/><rect x="181.0" y="99.5" width="3" height="563.5" fill="url(#Wb)" fill-opacity="0.150" style="mix-blend-mode:plus-lighter"/><rect x="184.0" y="99.5" width="3" height="563.5" fill="url(#Wb)" fill-opacity="0.150" style="mix-blend-mode:plus-lighter"/><rect x="187.0" y="99.5" width="3" height="563.5" fill="url(#Wb)" fill-opacity="0.150" style="mix-blend-mode:plus-lighter"/><rect x="190.0" y="99.5" width="3" height="563.5" fill="url(#Wb)" fill-opacity="0.150" style="mix-blend-mode:plus-lighter"/><rect x="193.0" y="99.5" width="3" height="563.5" fill="url(#Wb)" fill-opacity="0.150" style="mix-blend-mode:plus-lighter"/><rect x="196.0" y="99.5" width="3" height="563.5" fill="url(#Wb)" fill-opacity="0.150" style="mix-blend-mode:plus-lighter"/><rect x="199.0" y="99.5" width="3" height="563.5" fill="url(#Wb)" fill-opacity="0.150" style="mix-blend-mode:plus-lighter"/><rect x="202.0" y="99.5" width="3" height="563.5" fill="url(#Wb)" fill-opacity="0.150" style="mix-blend-mode:plus-lighter"/><rect x="205.0" y="99.5" width="3" height="563.5" fill="url(#Wb)" fill-opacity="0.150" style="mix-blend-mode:plus-lighter"/><rect x="208.0" y="99.5" width="3" height="563.5" fill="url(#Wb)" fill-opacity="0.150" style="mix-blend-mode:plus-lighter"/><rect x="211.0" y="99.5" width="3" height="563.5" fill="url(#Wb)" fill-opacity="0.150" style="mix-blend-mode:plus-lighter"/><rect x="214.0" y="99.5" width="3" height="563.5" fill="url(#Wg)" fill-opacity="0.038" style="mix-blend-mode:plus-lighter"/><rect x="217.0" y="99.5" width="3" height="563.5" fill="url(#Wg)" fill-opacity="0.150" style="mix-blend-mode:plus-lighter"/><rect x="220.0" y="99.5" width="3" height="563.5" fill="url(#Wg)" fill-opacity="0.150" style="mix-blend-mode:plus-lighter"/><rect x="223.0" y="99.5" width="3" height="563.5" fill="url(#Wg)" fill-opacity="0.150" style="mix-blend-mode:plus-lighter"/><rect x="226.0" y="99.5" width="3" height="563.5" fill="url(#Wg)" fill-opacity="0.150" style="mix-blend-mode:plus-lighter"/><rect x="229.0" y="99.5" width="3" height="563.5" fill="url(#Wg)" fill-opacity="0.150" style="mix-blend-mode:plus-lighter"/><rect x="232.0" y="99.5" width="3" height="563.5" fill="url(#Wg)" fill-opacity="0.150" style="mix-blend-mode:plus-lighter"/><rect x="235.0" y="99.5" width="3" height="563.5" fill="url(#Wg)" fill-opacity="0.150" style="mix-blend-mode:plus-lighter"/><rect x="238.0" y="99.5" width="3" height="563.5" fill="url(#Wg)" fill-opacity="0.082" style="mix-blend-mode:plus-lighter"/><rect x="244.0" y="99.5" width="3" height="563.5" fill="url(#Wb)" fill-opacity="0.082" style="mix-blend-mode:plus-lighter"/><rect x="247.0" y="99.5" width="3" height="563.5" fill="url(#Wb)" fill-opacity="0.150" style="mix-blend-mode:plus-lighter"/><rect x="250.0" y="99.5" width="3" height="563.5" fill="url(#Wb)" fill-opacity="0.150" style="mix-blend-mode:plus-lighter"/><rect x="253.0" y="99.5" width="3" height="563.5" fill="url(#Wb)" fill-opacity="0.150" style="mix-blend-mode:plus-lighter"/><rect x="256.0" y="99.5" width="3" height="563.5" fill="url(#Wb)" fill-opacity="0.150" style="mix-blend-mode:plus-lighter"/><rect x="259.0" y="99.5" width="3" height="563.5" fill="url(#Wb)" fill-opacity="0.150" style="mix-blend-mode:plus-lighter"/><rect x="262.0" y="99.5" width="3" height="563.5" fill="url(#Wb)" fill-opacity="0.150" style="mix-blend-mode:plus-lighter"/><rect x="265.0" y="99.5" width="3" height="563.5" fill="url(#Wb)" fill-opacity="0.150" style="mix-blend-mode:plus-lighter"/><rect x="268.0" y="99.5" width="3" height="563.5" fill="url(#Wb)" fill-opacity="0.150" style="mix-blend-mode:plus-lighter"/><rect x="271.0" y="99.5" width="3" height="563.5" fill="url(#Wb)" fill-opacity="0.150" style="mix-blend-mode:plus-lighter"/><rect x="274.0" y="99.5" width="3" height="563.5" fill="url(#Wb)" fill-opacity="0.150" style="mix-blend-mode:plus-lighter"/><rect x="277.0" y="99.5" width="3" height="563.5" fill="url(#Wb)" fill-opacity="0.150" style="mix-blend-mode:plus-lighter"/><rect x="280.0" y="99.5" width="3" height="563.5" fill="url(#Wg)" fill-opacity="0.038" style="mix-blend-mode:plus-lighter"/><rect x="283.0" y="99.5" width="3" height="563.5" fill="url(#Wg)" fill-opacity="0.150" style="mix-blend-mode:plus-lighter"/><rect x="286.0" y="99.5" width="3" height="563.5" fill="url(#Wg)" fill-opacity="0.150" style="mix-blend-mode:plus-lighter"/><rect x="289.0" y="99.5" width="3" height="563.5" fill="url(#Wg)" fill-opacity="0.150" style="mix-blend-mode:plus-lighter"/><rect x="292.0" y="99.5" width="3" height="563.5" fill="url(#Wg)" fill-opacity="0.150" style="mix-blend-mode:plus-lighter"/><rect x="295.0" y="99.5" width="3" height="563.5" fill="url(#Wg)" fill-opacity="0.150" style="mix-blend-mode:plus-lighter"/><rect x="298.0" y="99.5" width="3" height="563.5" fill="url(#Wg)" fill-opacity="0.150" style="mix-blend-mode:plus-lighter"/><rect x="301.0" y="99.5" width="3" height="563.5" fill="url(#Wg)" fill-opacity="0.150" style="mix-blend-mode:plus-lighter"/><rect x="304.0" y="99.5" width="3" height="563.5" fill="url(#Wg)" fill-opacity="0.150" style="mix-blend-mode:plus-lighter"/><rect x="307.0" y="99.5" width="3" height="563.5" fill="url(#Wg)" fill-opacity="0.150" style="mix-blend-mode:plus-lighter"/><rect x="310.0" y="99.5" width="3" height="563.5" fill="url(#Wg)" fill-opacity="0.150" style="mix-blend-mode:plus-lighter"/><rect x="313.0" y="99.5" width="3" height="563.5" fill="url(#Wg)" fill-opacity="0.150" style="mix-blend-mode:plus-lighter"/><rect x="316.0" y="99.5" width="3" height="563.5" fill="url(#Wg)" fill-opacity="0.150" style="mix-blend-mode:plus-lighter"/><rect x="319.0" y="99.5" width="3" height="563.5" fill="url(#Wg)" fill-opacity="0.150" style="mix-blend-mode:plus-lighter"/><rect x="322.0" y="99.5" width="3" height="563.5" fill="url(#Wg)" fill-opacity="0.150" style="mix-blend-mode:plus-lighter"/><rect x="325.0" y="99.5" width="3" height="563.5" fill="url(#Wg)" fill-opacity="0.150" style="mix-blend-mode:plus-lighter"/><rect x="328.0" y="99.5" width="3" height="563.5" fill="url(#Wg)" fill-opacity="0.091" style="mix-blend-mode:plus-lighter"/><rect x="331.0" y="99.5" width="3" height="563.5" fill="url(#Wb)" fill-opacity="0.027" style="mix-blend-mode:plus-lighter"/><rect x="334.0" y="99.5" width="3" height="563.5" fill="url(#Wb)" fill-opacity="0.125" style="mix-blend-mode:plus-lighter"/><rect x="337.0" y="99.5" width="3" height="563.5" fill="url(#Wb)" fill-opacity="0.125" style="mix-blend-mode:plus-lighter"/><rect x="340.0" y="99.5" width="3" height="563.5" fill="url(#Wb)" fill-opacity="0.125" style="mix-blend-mode:plus-lighter"/><rect x="343.0" y="99.5" width="3" height="563.5" fill="url(#Wb)" fill-opacity="0.125" style="mix-blend-mode:plus-lighter"/><rect x="346.0" y="99.5" width="3" height="563.5" fill="url(#Wb)" fill-opacity="0.125" style="mix-blend-mode:plus-lighter"/><rect x="349.0" y="99.5" width="3" height="563.5" fill="url(#Wb)" fill-opacity="0.125" style="mix-blend-mode:plus-lighter"/><rect x="352.0" y="99.5" width="3" height="563.5" fill="url(#Wb)" fill-opacity="0.125" style="mix-blend-mode:plus-lighter"/><rect x="355.0" y="99.5" width="3" height="563.5" fill="url(#Wb)" fill-opacity="0.079" style="mix-blend-mode:plus-lighter"/><rect x="358.0" y="99.5" width="3" height="563.5" fill="url(#Wg)" fill-opacity="0.150" style="mix-blend-mode:plus-lighter"/><rect x="361.0" y="99.5" width="3" height="563.5" fill="url(#Wg)" fill-opacity="0.150" style="mix-blend-mode:plus-lighter"/><rect x="364.0" y="99.5" width="3" height="563.5" fill="url(#Wg)" fill-opacity="0.150" style="mix-blend-mode:plus-lighter"/><rect x="367.0" y="99.5" width="3" height="563.5" fill="url(#Wg)" fill-opacity="0.150" style="mix-blend-mode:plus-lighter"/><rect x="370.0" y="99.5" width="3" height="563.5" fill="url(#Wg)" fill-opacity="0.150" style="mix-blend-mode:plus-lighter"/><rect x="373.0" y="99.5" width="3" height="563.5" fill="url(#Wg)" fill-opacity="0.150" style="mix-blend-mode:plus-lighter"/><rect x="376.0" y="99.5" width="3" height="563.5" fill="url(#Wg)" fill-opacity="0.150" style="mix-blend-mode:plus-lighter"/><rect x="379.0" y="99.5" width="3" height="563.5" fill="url(#Wg)" fill-opacity="0.150" style="mix-blend-mode:plus-lighter"/><rect x="382.0" y="99.5" width="3" height="563.5" fill="url(#Wg)" fill-opacity="0.150" style="mix-blend-mode:plus-lighter"/><rect x="385.0" y="99.5" width="3" height="563.5" fill="url(#Wg)" fill-opacity="0.150" style="mix-blend-mode:plus-lighter"/><rect x="388.0" y="99.5" width="3" height="563.5" fill="url(#Wg)" fill-opacity="0.150" style="mix-blend-mode:plus-lighter"/><rect x="391.0" y="99.5" width="3" height="563.5" fill="url(#Wg)" fill-opacity="0.150" style="mix-blend-mode:plus-lighter"/><rect x="394.0" y="99.5" width="3" height="563.5" fill="url(#Wg)" fill-opacity="0.150" style="mix-blend-mode:plus-lighter"/><rect x="397.0" y="99.5" width="3" height="563.5" fill="url(#Wg)" fill-opacity="0.150" style="mix-blend-mode:plus-lighter"/><rect x="400.0" y="99.5" width="3" height="563.5" fill="url(#Wg)" fill-opacity="0.150" style="mix-blend-mode:plus-lighter"/><rect x="403.0" y="99.5" width="3" height="563.5" fill="url(#Wg)" fill-opacity="0.150" style="mix-blend-mode:plus-lighter"/><rect x="406.0" y="99.5" width="3" height="563.5" fill="url(#Wg)" fill-opacity="0.150" style="mix-blend-mode:plus-lighter"/><rect x="409.0" y="99.5" width="3" height="563.5" fill="url(#Wg)" fill-opacity="0.150" style="mix-blend-mode:plus-lighter"/><rect x="412.0" y="99.5" width="3" height="563.5" fill="url(#Wg)" fill-opacity="0.122" style="mix-blend-mode:plus-lighter"/><rect x="415.0" y="99.5" width="3" height="563.5" fill="url(#Wg)" fill-opacity="0.066" style="mix-blend-mode:plus-lighter"/><rect x="418.0" y="99.5" width="3" height="563.5" fill="url(#Wg)" fill-opacity="0.009" style="mix-blend-mode:plus-lighter"/><rect x="421.0" y="99.5" width="3" height="563.5" fill="url(#Wb)" fill-opacity="0.042" style="mix-blend-mode:plus-lighter"/><rect x="424.0" y="99.5" width="3" height="563.5" fill="url(#Wb)" fill-opacity="0.092" style="mix-blend-mode:plus-lighter"/><rect x="427.0" y="99.5" width="3" height="563.5" fill="url(#Wb)" fill-opacity="0.142" style="mix-blend-mode:plus-lighter"/><rect x="430.0" y="99.5" width="3" height="563.5" fill="url(#Wb)" fill-opacity="0.150" style="mix-blend-mode:plus-lighter"/><rect x="433.0" y="99.5" width="3" height="563.5" fill="url(#Wb)" fill-opacity="0.150" style="mix-blend-mode:plus-lighter"/><rect x="436.0" y="99.5" width="3" height="563.5" fill="url(#Wb)" fill-opacity="0.150" style="mix-blend-mode:plus-lighter"/><rect x="439.0" y="99.5" width="3" height="563.5" fill="url(#Wb)" fill-opacity="0.150" style="mix-blend-mode:plus-lighter"/><rect x="442.0" y="99.5" width="3" height="563.5" fill="url(#Wb)" fill-opacity="0.150" style="mix-blend-mode:plus-lighter"/><rect x="445.0" y="99.5" width="3" height="563.5" fill="url(#Wb)" fill-opacity="0.150" style="mix-blend-mode:plus-lighter"/><rect x="448.0" y="99.5" width="3" height="563.5" fill="url(#Wb)" fill-opacity="0.121" style="mix-blend-mode:plus-lighter"/><rect x="451.0" y="99.5" width="3" height="563.5" fill="url(#Wb)" fill-opacity="0.087" style="mix-blend-mode:plus-lighter"/><rect x="454.0" y="99.5" width="3" height="563.5" fill="url(#Wb)" fill-opacity="0.052" style="mix-blend-mode:plus-lighter"/><rect x="457.0" y="99.5" width="3" height="563.5" fill="url(#Wb)" fill-opacity="0.017" style="mix-blend-mode:plus-lighter"/><rect x="460.0" y="99.5" width="3" height="563.5" fill="url(#Wg)" fill-opacity="0.010" style="mix-blend-mode:plus-lighter"/><rect x="463.0" y="99.5" width="3" height="563.5" fill="url(#Wg)" fill-opacity="0.031" style="mix-blend-mode:plus-lighter"/><rect x="466.0" y="99.5" width="3" height="563.5" fill="url(#Wg)" fill-opacity="0.051" style="mix-blend-mode:plus-lighter"/><rect x="469.0" y="99.5" width="3" height="563.5" fill="url(#Wg)" fill-opacity="0.072" style="mix-blend-mode:plus-lighter"/><rect x="472.0" y="99.5" width="3" height="563.5" fill="url(#Wg)" fill-opacity="0.092" style="mix-blend-mode:plus-lighter"/><rect x="475.0" y="99.5" width="3" height="563.5" fill="url(#Wg)" fill-opacity="0.112" style="mix-blend-mode:plus-lighter"/><rect x="478.0" y="99.5" width="3" height="563.5" fill="url(#Wg)" fill-opacity="0.133" style="mix-blend-mode:plus-lighter"/><rect x="481.0" y="99.5" width="3" height="563.5" fill="url(#Wg)" fill-opacity="0.150" style="mix-blend-mode:plus-lighter"/><rect x="484.0" y="99.5" width="3" height="563.5" fill="url(#Wg)" fill-opacity="0.150" style="mix-blend-mode:plus-lighter"/><rect x="487.0" y="99.5" width="3" height="563.5" fill="url(#Wg)" fill-opacity="0.150" style="mix-blend-mode:plus-lighter"/><rect x="490.0" y="99.5" width="3" height="563.5" fill="url(#Wg)" fill-opacity="0.150" style="mix-blend-mode:plus-lighter"/><rect x="493.0" y="99.5" width="3" height="563.5" fill="url(#Wg)" fill-opacity="0.150" style="mix-blend-mode:plus-lighter"/><rect x="496.0" y="99.5" width="3" height="563.5" fill="url(#Wg)" fill-opacity="0.150" style="mix-blend-mode:plus-lighter"/><rect x="499.0" y="99.5" width="3" height="563.5" fill="url(#Wg)" fill-opacity="0.120" style="mix-blend-mode:plus-lighter"/><rect x="502.0" y="99.5" width="3" height="563.5" fill="url(#Wb)" fill-opacity="0.060" style="mix-blend-mode:plus-lighter"/><rect x="505.0" y="99.5" width="3" height="563.5" fill="url(#Wb)" fill-opacity="0.150" style="mix-blend-mode:plus-lighter"/><rect x="508.0" y="99.5" width="3" height="563.5" fill="url(#Wb)" fill-opacity="0.150" style="mix-blend-mode:plus-lighter"/><rect x="511.0" y="99.5" width="3" height="563.5" fill="url(#Wb)" fill-opacity="0.150" style="mix-blend-mode:plus-lighter"/><rect x="514.0" y="99.5" width="3" height="563.5" fill="url(#Wb)" fill-opacity="0.150" style="mix-blend-mode:plus-lighter"/><rect x="517.0" y="99.5" width="3" height="563.5" fill="url(#Wb)" fill-opacity="0.150" style="mix-blend-mode:plus-lighter"/><rect x="520.0" y="99.5" width="3" height="563.5" fill="url(#Wb)" fill-opacity="0.150" style="mix-blend-mode:plus-lighter"/><rect x="523.0" y="99.5" width="3" height="563.5" fill="url(#Wb)" fill-opacity="0.150" style="mix-blend-mode:plus-lighter"/><rect x="526.0" y="99.5" width="3" height="563.5" fill="url(#Wb)" fill-opacity="0.150" style="mix-blend-mode:plus-lighter"/><rect x="529.0" y="99.5" width="3" height="563.5" fill="url(#Wb)" fill-opacity="0.150" style="mix-blend-mode:plus-lighter"/><rect x="532.0" y="99.5" width="3" height="563.5" fill="url(#Wb)" fill-opacity="0.150" style="mix-blend-mode:plus-lighter"/><rect x="535.0" y="99.5" width="3" height="563.5" fill="url(#Wb)" fill-opacity="0.150" style="mix-blend-mode:plus-lighter"/><rect x="538.0" y="99.5" width="3" height="563.5" fill="url(#Wb)" fill-opacity="0.150" style="mix-blend-mode:plus-lighter"/><rect x="541.0" y="99.5" width="3" height="563.5" fill="url(#Wb)" fill-opacity="0.096" style="mix-blend-mode:plus-lighter"/><rect x="544.0" y="99.5" width="3" height="563.5" fill="url(#Wg)" fill-opacity="0.175" style="mix-blend-mode:plus-lighter"/><rect x="547.0" y="99.5" width="3" height="563.5" fill="url(#Wg)" fill-opacity="0.175" style="mix-blend-mode:plus-lighter"/><rect x="550.0" y="99.5" width="3" height="563.5" fill="url(#Wg)" fill-opacity="0.175" style="mix-blend-mode:plus-lighter"/><rect x="553.0" y="99.5" width="3" height="563.5" fill="url(#Wg)" fill-opacity="0.175" style="mix-blend-mode:plus-lighter"/><rect x="556.0" y="99.5" width="3" height="563.5" fill="url(#Wg)" fill-opacity="0.175" style="mix-blend-mode:plus-lighter"/><rect x="559.0" y="99.5" width="3" height="563.5" fill="url(#Wg)" fill-opacity="0.175" style="mix-blend-mode:plus-lighter"/><rect x="562.0" y="99.5" width="3" height="563.5" fill="url(#Wg)" fill-opacity="0.013" style="mix-blend-mode:plus-lighter"/><rect x="565.0" y="99.5" width="3" height="563.5" fill="url(#Wb)" fill-opacity="0.150" style="mix-blend-mode:plus-lighter"/><rect x="568.0" y="99.5" width="3" height="563.5" fill="url(#Wb)" fill-opacity="0.150" style="mix-blend-mode:plus-lighter"/><rect x="571.0" y="99.5" width="3" height="563.5" fill="url(#Wb)" fill-opacity="0.150" style="mix-blend-mode:plus-lighter"/><rect x="574.0" y="99.5" width="3" height="563.5" fill="url(#Wb)" fill-opacity="0.150" style="mix-blend-mode:plus-lighter"/><rect x="577.0" y="99.5" width="3" height="563.5" fill="url(#Wb)" fill-opacity="0.150" style="mix-blend-mode:plus-lighter"/><rect x="580.0" y="99.5" width="3" height="563.5" fill="url(#Wb)" fill-opacity="0.150" style="mix-blend-mode:plus-lighter"/><rect x="583.0" y="99.5" width="3" height="563.5" fill="url(#Wb)" fill-opacity="0.150" style="mix-blend-mode:plus-lighter"/><rect x="586.0" y="99.5" width="3" height="563.5" fill="url(#Wb)" fill-opacity="0.150" style="mix-blend-mode:plus-lighter"/><rect x="589.0" y="99.5" width="3" height="563.5" fill="url(#Wb)" fill-opacity="0.150" style="mix-blend-mode:plus-lighter"/><rect x="592.0" y="99.5" width="3" height="563.5" fill="url(#Wb)" fill-opacity="0.150" style="mix-blend-mode:plus-lighter"/><rect x="595.0" y="99.5" width="3" height="563.5" fill="url(#Wb)" fill-opacity="0.150" style="mix-blend-mode:plus-lighter"/><rect x="598.0" y="99.5" width="3" height="563.5" fill="url(#Wb)" fill-opacity="0.150" style="mix-blend-mode:plus-lighter"/><rect x="601.0" y="99.5" width="3" height="563.5" fill="url(#Wb)" fill-opacity="0.150" style="mix-blend-mode:plus-lighter"/><rect x="604.0" y="99.5" width="3" height="563.5" fill="url(#Wb)" fill-opacity="0.150" style="mix-blend-mode:plus-lighter"/><rect x="607.0" y="99.5" width="3" height="563.5" fill="url(#Wb)" fill-opacity="0.150" style="mix-blend-mode:plus-lighter"/><rect x="610.0" y="99.5" width="3" height="563.5" fill="url(#Wb)" fill-opacity="0.150" style="mix-blend-mode:plus-lighter"/><rect x="613.0" y="99.5" width="3" height="563.5" fill="url(#Wg)" fill-opacity="0.038" style="mix-blend-mode:plus-lighter"/><rect x="616.0" y="99.5" width="3" height="563.5" fill="url(#Wg)" fill-opacity="0.150" style="mix-blend-mode:plus-lighter"/><rect x="619.0" y="99.5" width="3" height="563.5" fill="url(#Wg)" fill-opacity="0.150" style="mix-blend-mode:plus-lighter"/><rect x="622.0" y="99.5" width="3" height="563.5" fill="url(#Wg)" fill-opacity="0.150" style="mix-blend-mode:plus-lighter"/><rect x="625.0" y="99.5" width="3" height="563.5" fill="url(#Wg)" fill-opacity="0.150" style="mix-blend-mode:plus-lighter"/><rect x="628.0" y="99.5" width="3" height="563.5" fill="url(#Wg)" fill-opacity="0.150" style="mix-blend-mode:plus-lighter"/><rect x="631.0" y="99.5" width="3" height="563.5" fill="url(#Wg)" fill-opacity="0.150" style="mix-blend-mode:plus-lighter"/><rect x="634.0" y="99.5" width="3" height="563.5" fill="url(#Wg)" fill-opacity="0.150" style="mix-blend-mode:plus-lighter"/><rect x="637.0" y="99.5" width="3" height="563.5" fill="url(#Wg)" fill-opacity="0.150" style="mix-blend-mode:plus-lighter"/><rect x="640.0" y="99.5" width="3" height="563.5" fill="url(#Wg)" fill-opacity="0.150" style="mix-blend-mode:plus-lighter"/><rect x="643.0" y="99.5" width="3" height="563.5" fill="url(#Wg)" fill-opacity="0.150" style="mix-blend-mode:plus-lighter"/><rect x="646.0" y="99.5" width="3" height="563.5" fill="url(#Wb)" fill-opacity="0.012" style="mix-blend-mode:plus-lighter"/><rect x="649.0" y="99.5" width="3" height="563.5" fill="url(#Wb)" fill-opacity="0.175" style="mix-blend-mode:plus-lighter"/><rect x="652.0" y="99.5" width="3" height="563.5" fill="url(#Wb)" fill-opacity="0.175" style="mix-blend-mode:plus-lighter"/><rect x="655.0" y="99.5" width="3" height="563.5" fill="url(#Wb)" fill-opacity="0.175" style="mix-blend-mode:plus-lighter"/><rect x="658.0" y="99.5" width="3" height="563.5" fill="url(#Wb)" fill-opacity="0.175" style="mix-blend-mode:plus-lighter"/><rect x="661.0" y="99.5" width="3" height="563.5" fill="url(#Wb)" fill-opacity="0.175" style="mix-blend-mode:plus-lighter"/><rect x="664.0" y="99.5" width="3" height="563.5" fill="url(#Wb)" fill-opacity="0.175" style="mix-blend-mode:plus-lighter"/><rect x="667.0" y="99.5" width="3" height="563.5" fill="url(#Wb)" fill-opacity="0.175" style="mix-blend-mode:plus-lighter"/><rect x="670.0" y="99.5" width="3" height="563.5" fill="url(#Wb)" fill-opacity="0.175" style="mix-blend-mode:plus-lighter"/><rect x="673.0" y="99.5" width="3" height="563.5" fill="url(#Wb)" fill-opacity="0.175" style="mix-blend-mode:plus-lighter"/><rect x="676.0" y="99.5" width="3" height="563.5" fill="url(#Wb)" fill-opacity="0.175" style="mix-blend-mode:plus-lighter"/><rect x="679.0" y="99.5" width="3" height="563.5" fill="url(#Wb)" fill-opacity="0.175" style="mix-blend-mode:plus-lighter"/><rect x="682.0" y="99.5" width="3" height="563.5" fill="url(#Wb)" fill-opacity="0.175" style="mix-blend-mode:plus-lighter"/><rect x="685.0" y="99.5" width="3" height="563.5" fill="url(#Wb)" fill-opacity="0.175" style="mix-blend-mode:plus-lighter"/><rect x="688.0" y="99.5" width="3" height="563.5" fill="url(#Wb)" fill-opacity="0.175" style="mix-blend-mode:plus-lighter"/><rect x="691.0" y="99.5" width="3" height="563.5" fill="url(#Wb)" fill-opacity="0.175" style="mix-blend-mode:plus-lighter"/><rect x="694.0" y="99.5" width="3" height="563.5" fill="url(#Wb)" fill-opacity="0.175" style="mix-blend-mode:plus-lighter"/><rect x="697.0" y="99.5" width="3" height="563.5" fill="url(#Wb)" fill-opacity="0.175" style="mix-blend-mode:plus-lighter"/><rect x="700.0" y="99.5" width="3" height="563.5" fill="url(#Wb)" fill-opacity="0.175" style="mix-blend-mode:plus-lighter"/><rect x="703.0" y="99.5" width="3" height="563.5" fill="url(#Wg)" fill-opacity="0.050" style="mix-blend-mode:plus-lighter"/><rect x="706.0" y="99.5" width="3" height="563.5" fill="url(#Wg)" fill-opacity="0.125" style="mix-blend-mode:plus-lighter"/><rect x="709.0" y="99.5" width="3" height="563.5" fill="url(#Wg)" fill-opacity="0.125" style="mix-blend-mode:plus-lighter"/><rect x="712.0" y="99.5" width="3" height="563.5" fill="url(#Wg)" fill-opacity="0.125" style="mix-blend-mode:plus-lighter"/><rect x="715.0" y="99.5" width="3" height="563.5" fill="url(#Wg)" fill-opacity="0.125" style="mix-blend-mode:plus-lighter"/><rect x="718.0" y="99.5" width="3" height="563.5" fill="url(#Wg)" fill-opacity="0.125" style="mix-blend-mode:plus-lighter"/><rect x="721.0" y="99.5" width="3" height="563.5" fill="url(#Wb)" fill-opacity="0.104" style="mix-blend-mode:plus-lighter"/><rect x="724.0" y="99.5" width="3" height="563.5" fill="url(#Wb)" fill-opacity="0.150" style="mix-blend-mode:plus-lighter"/><rect x="727.0" y="99.5" width="3" height="563.5" fill="url(#Wb)" fill-opacity="0.150" style="mix-blend-mode:plus-lighter"/><rect x="730.0" y="99.5" width="3" height="563.5" fill="url(#Wb)" fill-opacity="0.150" style="mix-blend-mode:plus-lighter"/><rect x="733.0" y="99.5" width="3" height="563.5" fill="url(#Wb)" fill-opacity="0.150" style="mix-blend-mode:plus-lighter"/><rect x="736.0" y="99.5" width="3" height="563.5" fill="url(#Wb)" fill-opacity="0.150" style="mix-blend-mode:plus-lighter"/><rect x="739.0" y="99.5" width="3" height="563.5" fill="url(#Wb)" fill-opacity="0.150" style="mix-blend-mode:plus-lighter"/><rect x="742.0" y="99.5" width="3" height="563.5" fill="url(#Wb)" fill-opacity="0.150" style="mix-blend-mode:plus-lighter"/><rect x="745.0" y="99.5" width="3" height="563.5" fill="url(#Wb)" fill-opacity="0.150" style="mix-blend-mode:plus-lighter"/><rect x="748.0" y="99.5" width="3" height="563.5" fill="url(#Wg)" fill-opacity="0.075" style="mix-blend-mode:plus-lighter"/><rect x="751.0" y="99.5" width="3" height="563.5" fill="url(#Wg)" fill-opacity="0.150" style="mix-blend-mode:plus-lighter"/><rect x="754.0" y="99.5" width="3" height="563.5" fill="url(#Wg)" fill-opacity="0.150" style="mix-blend-mode:plus-lighter"/><rect x="757.0" y="99.5" width="3" height="563.5" fill="url(#Wg)" fill-opacity="0.150" style="mix-blend-mode:plus-lighter"/><rect x="760.0" y="99.5" width="3" height="563.5" fill="url(#Wg)" fill-opacity="0.150" style="mix-blend-mode:plus-lighter"/><rect x="763.0" y="99.5" width="3" height="563.5" fill="url(#Wg)" fill-opacity="0.150" style="mix-blend-mode:plus-lighter"/><rect x="766.0" y="99.5" width="3" height="563.5" fill="url(#Wg)" fill-opacity="0.150" style="mix-blend-mode:plus-lighter"/><rect x="769.0" y="99.5" width="3" height="563.5" fill="url(#Wg)" fill-opacity="0.075" style="mix-blend-mode:plus-lighter"/><rect x="772.0" y="99.5" width="3" height="563.5" fill="url(#Wb)" fill-opacity="0.150" style="mix-blend-mode:plus-lighter"/><rect x="775.0" y="99.5" width="3" height="563.5" fill="url(#Wb)" fill-opacity="0.150" style="mix-blend-mode:plus-lighter"/><rect x="778.0" y="99.5" width="3" height="563.5" fill="url(#Wb)" fill-opacity="0.150" style="mix-blend-mode:plus-lighter"/><rect x="781.0" y="99.5" width="3" height="563.5" fill="url(#Wb)" fill-opacity="0.150" style="mix-blend-mode:plus-lighter"/><rect x="784.0" y="99.5" width="3" height="563.5" fill="url(#Wb)" fill-opacity="0.150" style="mix-blend-mode:plus-lighter"/><rect x="787.0" y="99.5" width="3" height="563.5" fill="url(#Wb)" fill-opacity="0.150" style="mix-blend-mode:plus-lighter"/><rect x="790.0" y="99.5" width="3" height="563.5" fill="url(#Wb)" fill-opacity="0.150" style="mix-blend-mode:plus-lighter"/><rect x="793.0" y="99.5" width="3" height="563.5" fill="url(#Wb)" fill-opacity="0.150" style="mix-blend-mode:plus-lighter"/><rect x="796.0" y="99.5" width="3" height="563.5" fill="url(#Wb)" fill-opacity="0.150" style="mix-blend-mode:plus-lighter"/><rect x="799.0" y="99.5" width="3" height="563.5" fill="url(#Wb)" fill-opacity="0.150" style="mix-blend-mode:plus-lighter"/><rect x="802.0" y="99.5" width="3" height="563.5" fill="url(#Wb)" fill-opacity="0.150" style="mix-blend-mode:plus-lighter"/><rect x="805.0" y="99.5" width="3" height="563.5" fill="url(#Wb)" fill-opacity="0.150" style="mix-blend-mode:plus-lighter"/><rect x="808.0" y="99.5" width="3" height="563.5" fill="url(#Wb)" fill-opacity="0.150" style="mix-blend-mode:plus-lighter"/><rect x="811.0" y="99.5" width="3" height="563.5" fill="url(#Wb)" fill-opacity="0.150" style="mix-blend-mode:plus-lighter"/><rect x="814.0" y="99.5" width="3" height="563.5" fill="url(#Wg)" fill-opacity="0.121" style="mix-blend-mode:plus-lighter"/><rect x="817.0" y="99.5" width="3" height="563.5" fill="url(#Wg)" fill-opacity="0.175" style="mix-blend-mode:plus-lighter"/><rect x="820.0" y="99.5" width="3" height="563.5" fill="url(#Wg)" fill-opacity="0.175" style="mix-blend-mode:plus-lighter"/><rect x="823.0" y="99.5" width="3" height="563.5" fill="url(#Wg)" fill-opacity="0.175" style="mix-blend-mode:plus-lighter"/><rect x="826.0" y="99.5" width="3" height="563.5" fill="url(#Wg)" fill-opacity="0.175" style="mix-blend-mode:plus-lighter"/><rect x="829.0" y="99.5" width="3" height="563.5" fill="url(#Wg)" fill-opacity="0.175" style="mix-blend-mode:plus-lighter"/><rect x="832.0" y="99.5" width="3" height="563.5" fill="url(#Wg)" fill-opacity="0.175" style="mix-blend-mode:plus-lighter"/><rect x="835.0" y="99.5" width="3" height="563.5" fill="url(#Wg)" fill-opacity="0.175" style="mix-blend-mode:plus-lighter"/><rect x="838.0" y="99.5" width="3" height="563.5" fill="url(#Wg)" fill-opacity="0.175" style="mix-blend-mode:plus-lighter"/><rect x="841.0" y="99.5" width="3" height="563.5" fill="url(#Wg)" fill-opacity="0.175" style="mix-blend-mode:plus-lighter"/><rect x="844.0" y="99.5" width="3" height="563.5" fill="url(#Wg)" fill-opacity="0.175" style="mix-blend-mode:plus-lighter"/><rect x="847.0" y="99.5" width="3" height="563.5" fill="url(#Wg)" fill-opacity="0.175" style="mix-blend-mode:plus-lighter"/><rect x="850.0" y="99.5" width="3" height="563.5" fill="url(#Wg)" fill-opacity="0.175" style="mix-blend-mode:plus-lighter"/><rect x="853.0" y="99.5" width="3" height="563.5" fill="url(#Wg)" fill-opacity="0.175" style="mix-blend-mode:plus-lighter"/><rect x="856.0" y="99.5" width="3" height="563.5" fill="url(#Wg)" fill-opacity="0.175" style="mix-blend-mode:plus-lighter"/><rect x="859.0" y="99.5" width="3" height="563.5" fill="url(#Wg)" fill-opacity="0.175" style="mix-blend-mode:plus-lighter"/><rect x="862.0" y="99.5" width="3" height="563.5" fill="url(#Wg)" fill-opacity="0.175" style="mix-blend-mode:plus-lighter"/><rect x="865.0" y="99.5" width="3" height="563.5" fill="url(#Wg)" fill-opacity="0.175" style="mix-blend-mode:plus-lighter"/><rect x="868.0" y="99.5" width="3" height="563.5" fill="url(#Wg)" fill-opacity="0.175" style="mix-blend-mode:plus-lighter"/><rect x="871.0" y="99.5" width="3" height="563.5" fill="url(#Wg)" fill-opacity="0.164" style="mix-blend-mode:plus-lighter"/><rect x="874.0" y="99.5" width="3" height="563.5" fill="url(#Wg)" fill-opacity="0.098" style="mix-blend-mode:plus-lighter"/><rect x="877.0" y="99.5" width="3" height="563.5" fill="url(#Wg)" fill-opacity="0.033" style="mix-blend-mode:plus-lighter"/><rect x="880.0" y="99.5" width="3" height="563.5" fill="url(#Wb)" fill-opacity="0.028" style="mix-blend-mode:plus-lighter"/><rect x="883.0" y="99.5" width="3" height="563.5" fill="url(#Wb)" fill-opacity="0.084" style="mix-blend-mode:plus-lighter"/><rect x="886.0" y="99.5" width="3" height="563.5" fill="url(#Wb)" fill-opacity="0.141" style="mix-blend-mode:plus-lighter"/><rect x="889.0" y="99.5" width="3" height="563.5" fill="url(#Wb)" fill-opacity="0.150" style="mix-blend-mode:plus-lighter"/><rect x="892.0" y="99.5" width="3" height="563.5" fill="url(#Wb)" fill-opacity="0.150" style="mix-blend-mode:plus-lighter"/><rect x="895.0" y="99.5" width="3" height="563.5" fill="url(#Wb)" fill-opacity="0.150" style="mix-blend-mode:plus-lighter"/><rect x="898.0" y="99.5" width="3" height="563.5" fill="url(#Wb)" fill-opacity="0.150" style="mix-blend-mode:plus-lighter"/><rect x="901.0" y="99.5" width="3" height="563.5" fill="url(#Wb)" fill-opacity="0.150" style="mix-blend-mode:plus-lighter"/><rect x="904.0" y="99.5" width="3" height="563.5" fill="url(#Wb)" fill-opacity="0.150" style="mix-blend-mode:plus-lighter"/><rect x="907.0" y="99.5" width="3" height="563.5" fill="url(#Wb)" fill-opacity="0.150" style="mix-blend-mode:plus-lighter"/><rect x="910.0" y="99.5" width="3" height="563.5" fill="url(#Wb)" fill-opacity="0.150" style="mix-blend-mode:plus-lighter"/><rect x="913.0" y="99.5" width="3" height="563.5" fill="url(#Wb)" fill-opacity="0.150" style="mix-blend-mode:plus-lighter"/><rect x="916.0" y="99.5" width="3" height="563.5" fill="url(#Wb)" fill-opacity="0.150" style="mix-blend-mode:plus-lighter"/><rect x="919.0" y="99.5" width="3" height="563.5" fill="url(#Wb)" fill-opacity="0.150" style="mix-blend-mode:plus-lighter"/><rect x="922.0" y="99.5" width="3" height="563.5" fill="url(#Wb)" fill-opacity="0.150" style="mix-blend-mode:plus-lighter"/><rect x="925.0" y="99.5" width="3" height="563.5" fill="url(#Wb)" fill-opacity="0.150" style="mix-blend-mode:plus-lighter"/><rect x="928.0" y="99.5" width="3" height="563.5" fill="url(#Wb)" fill-opacity="0.150" style="mix-blend-mode:plus-lighter"/><rect x="931.0" y="99.5" width="3" height="563.5" fill="url(#Wb)" fill-opacity="0.150" style="mix-blend-mode:plus-lighter"/><rect x="934.0" y="99.5" width="3" height="563.5" fill="url(#Wb)" fill-opacity="0.150" style="mix-blend-mode:plus-lighter"/><rect x="937.0" y="99.5" width="3" height="563.5" fill="url(#Wb)" fill-opacity="0.150" style="mix-blend-mode:plus-lighter"/><rect x="940.0" y="99.5" width="3" height="563.5" fill="url(#Wb)" fill-opacity="0.150" style="mix-blend-mode:plus-lighter"/><rect x="943.0" y="99.5" width="3" height="563.5" fill="url(#Wb)" fill-opacity="0.150" style="mix-blend-mode:plus-lighter"/><rect x="946.0" y="99.5" width="3" height="563.5" fill="url(#Wb)" fill-opacity="0.150" style="mix-blend-mode:plus-lighter"/><rect x="949.0" y="99.5" width="3" height="563.5" fill="url(#Wb)" fill-opacity="0.150" style="mix-blend-mode:plus-lighter"/><rect x="952.0" y="99.5" width="3" height="563.5" fill="url(#Wb)" fill-opacity="0.150" style="mix-blend-mode:plus-lighter"/><rect x="955.0" y="99.5" width="3" height="563.5" fill="url(#Wb)" fill-opacity="0.150" style="mix-blend-mode:plus-lighter"/><rect x="958.0" y="99.5" width="3" height="563.5" fill="url(#Wb)" fill-opacity="0.150" style="mix-blend-mode:plus-lighter"/><rect x="961.0" y="99.5" width="3" height="563.5" fill="url(#Wb)" fill-opacity="0.150" style="mix-blend-mode:plus-lighter"/><rect x="964.0" y="99.5" width="3" height="563.5" fill="url(#Wb)" fill-opacity="0.150" style="mix-blend-mode:plus-lighter"/><rect x="967.0" y="99.5" width="3" height="563.5" fill="url(#Wb)" fill-opacity="0.150" style="mix-blend-mode:plus-lighter"/><rect x="948" y="99.5" width="1" height="563.5" fill="url(#Fb)" fill-opacity="0.015" style="mix-blend-mode:plus-lighter"/><rect x="949" y="99.5" width="1" height="563.5" fill="url(#Fb)" fill-opacity="0.045" style="mix-blend-mode:plus-lighter"/><rect x="950" y="99.5" width="1" height="563.5" fill="url(#Fb)" fill-opacity="0.075" style="mix-blend-mode:plus-lighter"/><rect x="951" y="99.5" width="1" height="563.5" fill="url(#Fb)" fill-opacity="0.105" style="mix-blend-mode:plus-lighter"/><rect x="952" y="99.5" width="1" height="563.5" fill="url(#Fb)" fill-opacity="0.135" style="mix-blend-mode:plus-lighter"/><rect x="953" y="99.5" width="1" height="563.5" fill="url(#Fb)" fill-opacity="0.167" style="mix-blend-mode:plus-lighter"/><rect x="954" y="99.5" width="1" height="563.5" fill="url(#Fb)" fill-opacity="0.200" style="mix-blend-mode:plus-lighter"/><rect x="955" y="99.5" width="1" height="563.5" fill="url(#Fb)" fill-opacity="0.233" style="mix-blend-mode:plus-lighter"/><rect x="956" y="99.5" width="1" height="563.5" fill="url(#Fb)" fill-opacity="0.250" style="mix-blend-mode:plus-lighter"/><rect x="957" y="99.5" width="1" height="563.5" fill="url(#Fb)" fill-opacity="0.250" style="mix-blend-mode:plus-lighter"/><rect x="958" y="99.5" width="1" height="563.5" fill="url(#Fb)" fill-opacity="0.250" style="mix-blend-mode:plus-lighter"/><rect x="959" y="99.5" width="1" height="563.5" fill="url(#Fb)" fill-opacity="0.250" style="mix-blend-mode:plus-lighter"/><rect x="960" y="99.5" width="1" height="563.5" fill="url(#Fb)" fill-opacity="0.250" style="mix-blend-mode:plus-lighter"/><rect x="961" y="99.5" width="1" height="563.5" fill="url(#Fb)" fill-opacity="0.250" style="mix-blend-mode:plus-lighter"/><rect x="962" y="99.5" width="1" height="563.5" fill="url(#Fb)" fill-opacity="0.250" style="mix-blend-mode:plus-lighter"/><rect x="963" y="99.5" width="1" height="563.5" fill="url(#Fb)" fill-opacity="0.250" style="mix-blend-mode:plus-lighter"/><rect x="964" y="99.5" width="1" height="563.5" fill="url(#Fb)" fill-opacity="0.250" style="mix-blend-mode:plus-lighter"/><rect x="965" y="99.5" width="1" height="563.5" fill="url(#Fb)" fill-opacity="0.250" style="mix-blend-mode:plus-lighter"/><rect x="966" y="99.5" width="1" height="563.5" fill="url(#Fb)" fill-opacity="0.250" style="mix-blend-mode:plus-lighter"/><rect x="967" y="99.5" width="1" height="563.5" fill="url(#Fb)" fill-opacity="0.250" style="mix-blend-mode:plus-lighter"/><rect x="968" y="99.5" width="1" height="563.5" fill="url(#Fb)" fill-opacity="0.250" style="mix-blend-mode:plus-lighter"/><rect x="133" y="99.5" width="2" height="563" fill="#00000f" style="mix-blend-mode:plus-lighter"/></g><filter id="spec0" x="133" y="99.5" width="836" height="8.0" filterUnits="userSpaceOnUse" color-interpolation-filters="sRGB">
<feColorMatrix in="SourceGraphic" type="matrix" values="1 1 -1 0 -0.5  1 1 -1 0 -0.5  1 1 -1 0 -0.5  0 0 0 0 1" result="base"/>
<feTurbulence type="fractalNoise" baseFrequency="1.37 0.31" numOctaves="1" seed="3" result="n1"/>
<feTurbulence type="fractalNoise" baseFrequency="0.6 0.01" numOctaves="1" seed="11" result="n2"/>
<feTurbulence type="fractalNoise" baseFrequency="0.03 0.19" numOctaves="1" seed="5" result="n3"/>
<feColorMatrix in="n1" type="matrix" values="1 0 0 0 0  1 0 0 0 0  1 0 0 0 0  0 0 0 0 1" result="n1g"/>
<feColorMatrix in="n2" type="matrix" values="1 0 0 0 0  1 0 0 0 0  1 0 0 0 0  0 0 0 0 1" result="n2g"/>
<feColorMatrix in="n3" type="matrix" values="1 0 0 0 0  1 0 0 0 0  1 0 0 0 0  0 0 0 0 1" result="n3g"/>
<feComposite in="n1g" in2="n3g" operator="arithmetic" k1="0" k2="0.131" k3="0.000" k4="0.4346" result="n13q"/>
<feComposite in="n13q" in2="n2g" operator="arithmetic" k1="0" k2="1" k3="0.150" k4="-0.0750" result="nzg"/>
<feComposite in="base" in2="nzg" operator="arithmetic" k1="0" k2="1" k3="1" k4="-0.5"/>
</filter><filter id="spec1" x="133" y="107.5" width="836" height="8.0" filterUnits="userSpaceOnUse" color-interpolation-filters="sRGB">
<feColorMatrix in="SourceGraphic" type="matrix" values="1 1 -1 0 -0.5  1 1 -1 0 -0.5  1 1 -1 0 -0.5  0 0 0 0 1" result="base"/>
<feTurbulence type="fractalNoise" baseFrequency="1.37 0.31" numOctaves="1" seed="3" result="n1"/>
<feTurbulence type="fractalNoise" baseFrequency="0.6 0.01" numOctaves="1" seed="11" result="n2"/>
<feTurbulence type="fractalNoise" baseFrequency="0.03 0.19" numOctaves="1" seed="5" result="n3"/>
<feColorMatrix in="n1" type="matrix" values="1 0 0 0 0  1 0 0 0 0  1 0 0 0 0  0 0 0 0 1" result="n1g"/>
<feColorMatrix in="n2" type="matrix" values="1 0 0 0 0  1 0 0 0 0  1 0 0 0 0  0 0 0 0 1" result="n2g"/>
<feColorMatrix in="n3" type="matrix" values="1 0 0 0 0  1 0 0 0 0  1 0 0 0 0  0 0 0 0 1" result="n3g"/>
<feComposite in="n1g" in2="n3g" operator="arithmetic" k1="0" k2="0.138" k3="0.000" k4="0.4312" result="n13q"/>
<feComposite in="n13q" in2="n2g" operator="arithmetic" k1="0" k2="1" k3="0.165" k4="-0.0825" result="nzg"/>
<feComposite in="base" in2="nzg" operator="arithmetic" k1="0" k2="1" k3="1" k4="-0.5"/>
</filter><filter id="spec2" x="133" y="115.5" width="836" height="8.0" filterUnits="userSpaceOnUse" color-interpolation-filters="sRGB">
<feColorMatrix in="SourceGraphic" type="matrix" values="1 1 -1 0 -0.5  1 1 -1 0 -0.5  1 1 -1 0 -0.5  0 0 0 0 1" result="base"/>
<feTurbulence type="fractalNoise" baseFrequency="1.37 0.31" numOctaves="1" seed="3" result="n1"/>
<feTurbulence type="fractalNoise" baseFrequency="0.6 0.01" numOctaves="1" seed="11" result="n2"/>
<feTurbulence type="fractalNoise" baseFrequency="0.03 0.19" numOctaves="1" seed="5" result="n3"/>
<feColorMatrix in="n1" type="matrix" values="1 0 0 0 0  1 0 0 0 0  1 0 0 0 0  0 0 0 0 1" result="n1g"/>
<feColorMatrix in="n2" type="matrix" values="1 0 0 0 0  1 0 0 0 0  1 0 0 0 0  0 0 0 0 1" result="n2g"/>
<feColorMatrix in="n3" type="matrix" values="1 0 0 0 0  1 0 0 0 0  1 0 0 0 0  0 0 0 0 1" result="n3g"/>
<feComposite in="n1g" in2="n3g" operator="arithmetic" k1="0" k2="0.144" k3="0.000" k4="0.4278" result="n13q"/>
<feComposite in="n13q" in2="n2g" operator="arithmetic" k1="0" k2="1" k3="0.180" k4="-0.0899" result="nzg"/>
<feComposite in="base" in2="nzg" operator="arithmetic" k1="0" k2="1" k3="1" k4="-0.5"/>
</filter><filter id="spec3" x="133" y="123.5" width="836" height="8.0" filterUnits="userSpaceOnUse" color-interpolation-filters="sRGB">
<feColorMatrix in="SourceGraphic" type="matrix" values="1 1 -1 0 -0.5  1 1 -1 0 -0.5  1 1 -1 0 -0.5  0 0 0 0 1" result="base"/>
<feTurbulence type="fractalNoise" baseFrequency="1.37 0.31" numOctaves="1" seed="3" result="n1"/>
<feTurbulence type="fractalNoise" baseFrequency="0.6 0.01" numOctaves="1" seed="11" result="n2"/>
<feTurbulence type="fractalNoise" baseFrequency="0.03 0.19" numOctaves="1" seed="5" result="n3"/>
<feColorMatrix in="n1" type="matrix" values="1 0 0 0 0  1 0 0 0 0  1 0 0 0 0  0 0 0 0 1" result="n1g"/>
<feColorMatrix in="n2" type="matrix" values="1 0 0 0 0  1 0 0 0 0  1 0 0 0 0  0 0 0 0 1" result="n2g"/>
<feColorMatrix in="n3" type="matrix" values="1 0 0 0 0  1 0 0 0 0  1 0 0 0 0  0 0 0 0 1" result="n3g"/>
<feComposite in="n1g" in2="n3g" operator="arithmetic" k1="0" k2="0.151" k3="0.000" k4="0.4245" result="n13q"/>
<feComposite in="n13q" in2="n2g" operator="arithmetic" k1="0" k2="1" k3="0.195" k4="-0.0974" result="nzg"/>
<feComposite in="base" in2="nzg" operator="arithmetic" k1="0" k2="1" k3="1" k4="-0.5"/>
</filter><filter id="spec4" x="133" y="131.5" width="836" height="8.0" filterUnits="userSpaceOnUse" color-interpolation-filters="sRGB">
<feColorMatrix in="SourceGraphic" type="matrix" values="1 1 -1 0 -0.5  1 1 -1 0 -0.5  1 1 -1 0 -0.5  0 0 0 0 1" result="base"/>
<feTurbulence type="fractalNoise" baseFrequency="1.37 0.31" numOctaves="1" seed="3" result="n1"/>
<feTurbulence type="fractalNoise" baseFrequency="0.6 0.01" numOctaves="1" seed="11" result="n2"/>
<feTurbulence type="fractalNoise" baseFrequency="0.03 0.19" numOctaves="1" seed="5" result="n3"/>
<feColorMatrix in="n1" type="matrix" values="1 0 0 0 0  1 0 0 0 0  1 0 0 0 0  0 0 0 0 1" result="n1g"/>
<feColorMatrix in="n2" type="matrix" values="1 0 0 0 0  1 0 0 0 0  1 0 0 0 0  0 0 0 0 1" result="n2g"/>
<feColorMatrix in="n3" type="matrix" values="1 0 0 0 0  1 0 0 0 0  1 0 0 0 0  0 0 0 0 1" result="n3g"/>
<feComposite in="n1g" in2="n3g" operator="arithmetic" k1="0" k2="0.158" k3="0.000" k4="0.4211" result="n13q"/>
<feComposite in="n13q" in2="n2g" operator="arithmetic" k1="0" k2="1" k3="0.225" k4="-0.1123" result="nzg"/>
<feComposite in="base" in2="nzg" operator="arithmetic" k1="0" k2="1" k3="1" k4="-0.5"/>
</filter><filter id="spec5" x="133" y="139.5" width="836" height="8.0" filterUnits="userSpaceOnUse" color-interpolation-filters="sRGB">
<feColorMatrix in="SourceGraphic" type="matrix" values="1 1 -1 0 -0.5  1 1 -1 0 -0.5  1 1 -1 0 -0.5  0 0 0 0 1" result="base"/>
<feTurbulence type="fractalNoise" baseFrequency="1.37 0.31" numOctaves="1" seed="3" result="n1"/>
<feTurbulence type="fractalNoise" baseFrequency="0.6 0.01" numOctaves="1" seed="11" result="n2"/>
<feTurbulence type="fractalNoise" baseFrequency="0.03 0.19" numOctaves="1" seed="5" result="n3"/>
<feColorMatrix in="n1" type="matrix" values="1 0 0 0 0  1 0 0 0 0  1 0 0 0 0  0 0 0 0 1" result="n1g"/>
<feColorMatrix in="n2" type="matrix" values="1 0 0 0 0  1 0 0 0 0  1 0 0 0 0  0 0 0 0 1" result="n2g"/>
<feColorMatrix in="n3" type="matrix" values="1 0 0 0 0  1 0 0 0 0  1 0 0 0 0  0 0 0 0 1" result="n3g"/>
<feComposite in="n1g" in2="n3g" operator="arithmetic" k1="0" k2="0.165" k3="0.000" k4="0.4177" result="n13q"/>
<feComposite in="n13q" in2="n2g" operator="arithmetic" k1="0" k2="1" k3="0.261" k4="-0.1305" result="nzg"/>
<feComposite in="base" in2="nzg" operator="arithmetic" k1="0" k2="1" k3="1" k4="-0.5"/>
</filter><filter id="spec6" x="133" y="147.5" width="836" height="8.0" filterUnits="userSpaceOnUse" color-interpolation-filters="sRGB">
<feColorMatrix in="SourceGraphic" type="matrix" values="1 1 -1 0 -0.5  1 1 -1 0 -0.5  1 1 -1 0 -0.5  0 0 0 0 1" result="base"/>
<feTurbulence type="fractalNoise" baseFrequency="1.37 0.31" numOctaves="1" seed="3" result="n1"/>
<feTurbulence type="fractalNoise" baseFrequency="0.6 0.01" numOctaves="1" seed="11" result="n2"/>
<feTurbulence type="fractalNoise" baseFrequency="0.03 0.19" numOctaves="1" seed="5" result="n3"/>
<feColorMatrix in="n1" type="matrix" values="1 0 0 0 0  1 0 0 0 0  1 0 0 0 0  0 0 0 0 1" result="n1g"/>
<feColorMatrix in="n2" type="matrix" values="1 0 0 0 0  1 0 0 0 0  1 0 0 0 0  0 0 0 0 1" result="n2g"/>
<feColorMatrix in="n3" type="matrix" values="1 0 0 0 0  1 0 0 0 0  1 0 0 0 0  0 0 0 0 1" result="n3g"/>
<feComposite in="n1g" in2="n3g" operator="arithmetic" k1="0" k2="0.175" k3="0.000" k4="0.4124" result="n13q"/>
<feComposite in="n13q" in2="n2g" operator="arithmetic" k1="0" k2="1" k3="0.298" k4="-0.1488" result="nzg"/>
<feComposite in="base" in2="nzg" operator="arithmetic" k1="0" k2="1" k3="1" k4="-0.5"/>
</filter><filter id="spec7" x="133" y="155.5" width="836" height="8.0" filterUnits="userSpaceOnUse" color-interpolation-filters="sRGB">
<feColorMatrix in="SourceGraphic" type="matrix" values="1 1 -1 0 -0.5  1 1 -1 0 -0.5  1 1 -1 0 -0.5  0 0 0 0 1" result="base"/>
<feTurbulence type="fractalNoise" baseFrequency="1.37 0.31" numOctaves="1" seed="3" result="n1"/>
<feTurbulence type="fractalNoise" baseFrequency="0.6 0.01" numOctaves="1" seed="11" result="n2"/>
<feTurbulence type="fractalNoise" baseFrequency="0.03 0.19" numOctaves="1" seed="5" result="n3"/>
<feColorMatrix in="n1" type="matrix" values="1 0 0 0 0  1 0 0 0 0  1 0 0 0 0  0 0 0 0 1" result="n1g"/>
<feColorMatrix in="n2" type="matrix" values="1 0 0 0 0  1 0 0 0 0  1 0 0 0 0  0 0 0 0 1" result="n2g"/>
<feColorMatrix in="n3" type="matrix" values="1 0 0 0 0  1 0 0 0 0  1 0 0 0 0  0 0 0 0 1" result="n3g"/>
<feComposite in="n1g" in2="n3g" operator="arithmetic" k1="0" k2="0.202" k3="0.000" k4="0.3988" result="n13q"/>
<feComposite in="n13q" in2="n2g" operator="arithmetic" k1="0" k2="1" k3="0.334" k4="-0.1670" result="nzg"/>
<feComposite in="base" in2="nzg" operator="arithmetic" k1="0" k2="1" k3="1" k4="-0.5"/>
</filter><filter id="spec8" x="133" y="163.5" width="836" height="8.0" filterUnits="userSpaceOnUse" color-interpolation-filters="sRGB">
<feColorMatrix in="SourceGraphic" type="matrix" values="1 1 -1 0 -0.5  1 1 -1 0 -0.5  1 1 -1 0 -0.5  0 0 0 0 1" result="base"/>
<feTurbulence type="fractalNoise" baseFrequency="1.37 0.31" numOctaves="1" seed="3" result="n1"/>
<feTurbulence type="fractalNoise" baseFrequency="0.6 0.01" numOctaves="1" seed="11" result="n2"/>
<feTurbulence type="fractalNoise" baseFrequency="0.03 0.19" numOctaves="1" seed="5" result="n3"/>
<feColorMatrix in="n1" type="matrix" values="1 0 0 0 0  1 0 0 0 0  1 0 0 0 0  0 0 0 0 1" result="n1g"/>
<feColorMatrix in="n2" type="matrix" values="1 0 0 0 0  1 0 0 0 0  1 0 0 0 0  0 0 0 0 1" result="n2g"/>
<feColorMatrix in="n3" type="matrix" values="1 0 0 0 0  1 0 0 0 0  1 0 0 0 0  0 0 0 0 1" result="n3g"/>
<feComposite in="n1g" in2="n3g" operator="arithmetic" k1="0" k2="0.230" k3="0.000" k4="0.3852" result="n13q"/>
<feComposite in="n13q" in2="n2g" operator="arithmetic" k1="0" k2="1" k3="0.370" k4="-0.1852" result="nzg"/>
<feComposite in="base" in2="nzg" operator="arithmetic" k1="0" k2="1" k3="1" k4="-0.5"/>
</filter><filter id="spec9" x="133" y="171.5" width="836" height="8.0" filterUnits="userSpaceOnUse" color-interpolation-filters="sRGB">
<feColorMatrix in="SourceGraphic" type="matrix" values="1 1 -1 0 -0.5  1 1 -1 0 -0.5  1 1 -1 0 -0.5  0 0 0 0 1" result="base"/>
<feTurbulence type="fractalNoise" baseFrequency="1.37 0.31" numOctaves="1" seed="3" result="n1"/>
<feTurbulence type="fractalNoise" baseFrequency="0.6 0.01" numOctaves="1" seed="11" result="n2"/>
<feTurbulence type="fractalNoise" baseFrequency="0.03 0.19" numOctaves="1" seed="5" result="n3"/>
<feColorMatrix in="n1" type="matrix" values="1 0 0 0 0  1 0 0 0 0  1 0 0 0 0  0 0 0 0 1" result="n1g"/>
<feColorMatrix in="n2" type="matrix" values="1 0 0 0 0  1 0 0 0 0  1 0 0 0 0  0 0 0 0 1" result="n2g"/>
<feColorMatrix in="n3" type="matrix" values="1 0 0 0 0  1 0 0 0 0  1 0 0 0 0  0 0 0 0 1" result="n3g"/>
<feComposite in="n1g" in2="n3g" operator="arithmetic" k1="0" k2="0.257" k3="0.000" k4="0.3716" result="n13q"/>
<feComposite in="n13q" in2="n2g" operator="arithmetic" k1="0" k2="1" k3="0.407" k4="-0.2035" result="nzg"/>
<feComposite in="base" in2="nzg" operator="arithmetic" k1="0" k2="1" k3="1" k4="-0.5"/>
</filter><filter id="spec10" x="133" y="179.5" width="836" height="8.0" filterUnits="userSpaceOnUse" color-interpolation-filters="sRGB">
<feColorMatrix in="SourceGraphic" type="matrix" values="1 1 -1 0 -0.5  1 1 -1 0 -0.5  1 1 -1 0 -0.5  0 0 0 0 1" result="base"/>
<feTurbulence type="fractalNoise" baseFrequency="1.37 0.31" numOctaves="1" seed="3" result="n1"/>
<feTurbulence type="fractalNoise" baseFrequency="0.6 0.01" numOctaves="1" seed="11" result="n2"/>
<feTurbulence type="fractalNoise" baseFrequency="0.03 0.19" numOctaves="1" seed="5" result="n3"/>
<feColorMatrix in="n1" type="matrix" values="1 0 0 0 0  1 0 0 0 0  1 0 0 0 0  0 0 0 0 1" result="n1g"/>
<feColorMatrix in="n2" type="matrix" values="1 0 0 0 0  1 0 0 0 0  1 0 0 0 0  0 0 0 0 1" result="n2g"/>
<feColorMatrix in="n3" type="matrix" values="1 0 0 0 0  1 0 0 0 0  1 0 0 0 0  0 0 0 0 1" result="n3g"/>
<feComposite in="n1g" in2="n3g" operator="arithmetic" k1="0" k2="0.284" k3="0.000" k4="0.3580" result="n13q"/>
<feComposite in="n13q" in2="n2g" operator="arithmetic" k1="0" k2="1" k3="0.455" k4="-0.2275" result="nzg"/>
<feComposite in="base" in2="nzg" operator="arithmetic" k1="0" k2="1" k3="1" k4="-0.5"/>
</filter><filter id="spec11" x="133" y="187.5" width="836" height="8.0" filterUnits="userSpaceOnUse" color-interpolation-filters="sRGB">
<feColorMatrix in="SourceGraphic" type="matrix" values="1 1 -1 0 -0.5  1 1 -1 0 -0.5  1 1 -1 0 -0.5  0 0 0 0 1" result="base"/>
<feTurbulence type="fractalNoise" baseFrequency="1.37 0.31" numOctaves="1" seed="3" result="n1"/>
<feTurbulence type="fractalNoise" baseFrequency="0.6 0.01" numOctaves="1" seed="11" result="n2"/>
<feTurbulence type="fractalNoise" baseFrequency="0.03 0.19" numOctaves="1" seed="5" result="n3"/>
<feColorMatrix in="n1" type="matrix" values="1 0 0 0 0  1 0 0 0 0  1 0 0 0 0  0 0 0 0 1" result="n1g"/>
<feColorMatrix in="n2" type="matrix" values="1 0 0 0 0  1 0 0 0 0  1 0 0 0 0  0 0 0 0 1" result="n2g"/>
<feColorMatrix in="n3" type="matrix" values="1 0 0 0 0  1 0 0 0 0  1 0 0 0 0  0 0 0 0 1" result="n3g"/>
<feComposite in="n1g" in2="n3g" operator="arithmetic" k1="0" k2="0.311" k3="0.000" k4="0.3445" result="n13q"/>
<feComposite in="n13q" in2="n2g" operator="arithmetic" k1="0" k2="1" k3="0.518" k4="-0.2588" result="nzg"/>
<feComposite in="base" in2="nzg" operator="arithmetic" k1="0" k2="1" k3="1" k4="-0.5"/>
</filter><filter id="spec12" x="133" y="195.5" width="836" height="8.0" filterUnits="userSpaceOnUse" color-interpolation-filters="sRGB">
<feColorMatrix in="SourceGraphic" type="matrix" values="1 1 -1 0 -0.5  1 1 -1 0 -0.5  1 1 -1 0 -0.5  0 0 0 0 1" result="base"/>
<feTurbulence type="fractalNoise" baseFrequency="1.37 0.31" numOctaves="1" seed="3" result="n1"/>
<feTurbulence type="fractalNoise" baseFrequency="0.6 0.01" numOctaves="1" seed="11" result="n2"/>
<feTurbulence type="fractalNoise" baseFrequency="0.03 0.19" numOctaves="1" seed="5" result="n3"/>
<feColorMatrix in="n1" type="matrix" values="1 0 0 0 0  1 0 0 0 0  1 0 0 0 0  0 0 0 0 1" result="n1g"/>
<feColorMatrix in="n2" type="matrix" values="1 0 0 0 0  1 0 0 0 0  1 0 0 0 0  0 0 0 0 1" result="n2g"/>
<feColorMatrix in="n3" type="matrix" values="1 0 0 0 0  1 0 0 0 0  1 0 0 0 0  0 0 0 0 1" result="n3g"/>
<feComposite in="n1g" in2="n3g" operator="arithmetic" k1="0" k2="0.338" k3="0.000" k4="0.3308" result="n13q"/>
<feComposite in="n13q" in2="n2g" operator="arithmetic" k1="0" k2="1" k3="0.580" k4="-0.2902" result="nzg"/>
<feComposite in="base" in2="nzg" operator="arithmetic" k1="0" k2="1" k3="1" k4="-0.5"/>
</filter><filter id="spec13" x="133" y="203.5" width="836" height="8.0" filterUnits="userSpaceOnUse" color-interpolation-filters="sRGB">
<feColorMatrix in="SourceGraphic" type="matrix" values="1 1 -1 0 -0.5  1 1 -1 0 -0.5  1 1 -1 0 -0.5  0 0 0 0 1" result="base"/>
<feTurbulence type="fractalNoise" baseFrequency="1.37 0.31" numOctaves="1" seed="3" result="n1"/>
<feTurbulence type="fractalNoise" baseFrequency="0.6 0.01" numOctaves="1" seed="11" result="n2"/>
<feTurbulence type="fractalNoise" baseFrequency="0.03 0.19" numOctaves="1" seed="5" result="n3"/>
<feColorMatrix in="n1" type="matrix" values="1 0 0 0 0  1 0 0 0 0  1 0 0 0 0  0 0 0 0 1" result="n1g"/>
<feColorMatrix in="n2" type="matrix" values="1 0 0 0 0  1 0 0 0 0  1 0 0 0 0  0 0 0 0 1" result="n2g"/>
<feColorMatrix in="n3" type="matrix" values="1 0 0 0 0  1 0 0 0 0  1 0 0 0 0  0 0 0 0 1" result="n3g"/>
<feComposite in="n1g" in2="n3g" operator="arithmetic" k1="0" k2="0.388" k3="0.027" k4="0.2926" result="n13q"/>
<feComposite in="n13q" in2="n2g" operator="arithmetic" k1="0" k2="1" k3="0.643" k4="-0.3215" result="nzg"/>
<feComposite in="base" in2="nzg" operator="arithmetic" k1="0" k2="1" k3="1" k4="-0.5"/>
</filter><filter id="spec14" x="133" y="211.5" width="836" height="8.0" filterUnits="userSpaceOnUse" color-interpolation-filters="sRGB">
<feColorMatrix in="SourceGraphic" type="matrix" values="1 1 -1 0 -0.5  1 1 -1 0 -0.5  1 1 -1 0 -0.5  0 0 0 0 1" result="base"/>
<feTurbulence type="fractalNoise" baseFrequency="1.37 0.31" numOctaves="1" seed="3" result="n1"/>
<feTurbulence type="fractalNoise" baseFrequency="0.6 0.01" numOctaves="1" seed="11" result="n2"/>
<feTurbulence type="fractalNoise" baseFrequency="0.03 0.19" numOctaves="1" seed="5" result="n3"/>
<feColorMatrix in="n1" type="matrix" values="1 0 0 0 0  1 0 0 0 0  1 0 0 0 0  0 0 0 0 1" result="n1g"/>
<feColorMatrix in="n2" type="matrix" values="1 0 0 0 0  1 0 0 0 0  1 0 0 0 0  0 0 0 0 1" result="n2g"/>
<feColorMatrix in="n3" type="matrix" values="1 0 0 0 0  1 0 0 0 0  1 0 0 0 0  0 0 0 0 1" result="n3g"/>
<feComposite in="n1g" in2="n3g" operator="arithmetic" k1="0" k2="0.439" k3="0.056" k4="0.2527" result="n13q"/>
<feComposite in="n13q" in2="n2g" operator="arithmetic" k1="0" k2="1" k3="0.706" k4="-0.3529" result="nzg"/>
<feComposite in="base" in2="nzg" operator="arithmetic" k1="0" k2="1" k3="1" k4="-0.5"/>
</filter><filter id="spec15" x="133" y="219.5" width="836" height="8.0" filterUnits="userSpaceOnUse" color-interpolation-filters="sRGB">
<feColorMatrix in="SourceGraphic" type="matrix" values="1 1 -1 0 -0.5  1 1 -1 0 -0.5  1 1 -1 0 -0.5  0 0 0 0 1" result="base"/>
<feTurbulence type="fractalNoise" baseFrequency="1.37 0.31" numOctaves="1" seed="3" result="n1"/>
<feTurbulence type="fractalNoise" baseFrequency="0.6 0.01" numOctaves="1" seed="11" result="n2"/>
<feTurbulence type="fractalNoise" baseFrequency="0.03 0.19" numOctaves="1" seed="5" result="n3"/>
<feColorMatrix in="n1" type="matrix" values="1 0 0 0 0  1 0 0 0 0  1 0 0 0 0  0 0 0 0 1" result="n1g"/>
<feColorMatrix in="n2" type="matrix" values="1 0 0 0 0  1 0 0 0 0  1 0 0 0 0  0 0 0 0 1" result="n2g"/>
<feColorMatrix in="n3" type="matrix" values="1 0 0 0 0  1 0 0 0 0  1 0 0 0 0  0 0 0 0 1" result="n3g"/>
<feComposite in="n1g" in2="n3g" operator="arithmetic" k1="0" k2="0.490" k3="0.085" k4="0.2128" result="n13q"/>
<feComposite in="n13q" in2="n2g" operator="arithmetic" k1="0" k2="1" k3="0.746" k4="-0.3730" result="nzg"/>
<feComposite in="base" in2="nzg" operator="arithmetic" k1="0" k2="1" k3="1" k4="-0.5"/>
</filter><filter id="spec16" x="133" y="227.5" width="836" height="8.0" filterUnits="userSpaceOnUse" color-interpolation-filters="sRGB">
<feColorMatrix in="SourceGraphic" type="matrix" values="1 1 -1 0 -0.5  1 1 -1 0 -0.5  1 1 -1 0 -0.5  0 0 0 0 1" result="base"/>
<feTurbulence type="fractalNoise" baseFrequency="1.37 0.31" numOctaves="1" seed="3" result="n1"/>
<feTurbulence type="fractalNoise" baseFrequency="0.6 0.01" numOctaves="1" seed="11" result="n2"/>
<feTurbulence type="fractalNoise" baseFrequency="0.03 0.19" numOctaves="1" seed="5" result="n3"/>
<feColorMatrix in="n1" type="matrix" values="1 0 0 0 0  1 0 0 0 0  1 0 0 0 0  0 0 0 0 1" result="n1g"/>
<feColorMatrix in="n2" type="matrix" values="1 0 0 0 0  1 0 0 0 0  1 0 0 0 0  0 0 0 0 1" result="n2g"/>
<feColorMatrix in="n3" type="matrix" values="1 0 0 0 0  1 0 0 0 0  1 0 0 0 0  0 0 0 0 1" result="n3g"/>
<feComposite in="n1g" in2="n3g" operator="arithmetic" k1="0" k2="0.541" k3="0.113" k4="0.1729" result="n13q"/>
<feComposite in="n13q" in2="n2g" operator="arithmetic" k1="0" k2="1" k3="0.757" k4="-0.3787" result="nzg"/>
<feComposite in="base" in2="nzg" operator="arithmetic" k1="0" k2="1" k3="1" k4="-0.5"/>
</filter><filter id="spec17" x="133" y="235.5" width="836" height="8.0" filterUnits="userSpaceOnUse" color-interpolation-filters="sRGB">
<feColorMatrix in="SourceGraphic" type="matrix" values="1 1 -1 0 -0.5  1 1 -1 0 -0.5  1 1 -1 0 -0.5  0 0 0 0 1" result="base"/>
<feTurbulence type="fractalNoise" baseFrequency="1.37 0.31" numOctaves="1" seed="3" result="n1"/>
<feTurbulence type="fractalNoise" baseFrequency="0.6 0.01" numOctaves="1" seed="11" result="n2"/>
<feTurbulence type="fractalNoise" baseFrequency="0.03 0.19" numOctaves="1" seed="5" result="n3"/>
<feColorMatrix in="n1" type="matrix" values="1 0 0 0 0  1 0 0 0 0  1 0 0 0 0  0 0 0 0 1" result="n1g"/>
<feColorMatrix in="n2" type="matrix" values="1 0 0 0 0  1 0 0 0 0  1 0 0 0 0  0 0 0 0 1" result="n2g"/>
<feColorMatrix in="n3" type="matrix" values="1 0 0 0 0  1 0 0 0 0  1 0 0 0 0  0 0 0 0 1" result="n3g"/>
<feComposite in="n1g" in2="n3g" operator="arithmetic" k1="0" k2="0.592" k3="0.142" k4="0.1330" result="n13q"/>
<feComposite in="n13q" in2="n2g" operator="arithmetic" k1="0" k2="1" k3="0.769" k4="-0.3844" result="nzg"/>
<feComposite in="base" in2="nzg" operator="arithmetic" k1="0" k2="1" k3="1" k4="-0.5"/>
</filter><filter id="spec18" x="133" y="243.5" width="836" height="8.0" filterUnits="userSpaceOnUse" color-interpolation-filters="sRGB">
<feColorMatrix in="SourceGraphic" type="matrix" values="1 1 -1 0 -0.5  1 1 -1 0 -0.5  1 1 -1 0 -0.5  0 0 0 0 1" result="base"/>
<feTurbulence type="fractalNoise" baseFrequency="1.37 0.31" numOctaves="1" seed="3" result="n1"/>
<feTurbulence type="fractalNoise" baseFrequency="0.6 0.01" numOctaves="1" seed="11" result="n2"/>
<feTurbulence type="fractalNoise" baseFrequency="0.03 0.19" numOctaves="1" seed="5" result="n3"/>
<feColorMatrix in="n1" type="matrix" values="1 0 0 0 0  1 0 0 0 0  1 0 0 0 0  0 0 0 0 1" result="n1g"/>
<feColorMatrix in="n2" type="matrix" values="1 0 0 0 0  1 0 0 0 0  1 0 0 0 0  0 0 0 0 1" result="n2g"/>
<feColorMatrix in="n3" type="matrix" values="1 0 0 0 0  1 0 0 0 0  1 0 0 0 0  0 0 0 0 1" result="n3g"/>
<feComposite in="n1g" in2="n3g" operator="arithmetic" k1="0" k2="0.600" k3="0.171" k4="0.1143" result="n13q"/>
<feComposite in="n13q" in2="n2g" operator="arithmetic" k1="0" k2="1" k3="0.780" k4="-0.3901" result="nzg"/>
<feComposite in="base" in2="nzg" operator="arithmetic" k1="0" k2="1" k3="1" k4="-0.5"/>
</filter><filter id="spec19" x="133" y="251.5" width="836" height="8.0" filterUnits="userSpaceOnUse" color-interpolation-filters="sRGB">
<feColorMatrix in="SourceGraphic" type="matrix" values="1 1 -1 0 -0.5  1 1 -1 0 -0.5  1 1 -1 0 -0.5  0 0 0 0 1" result="base"/>
<feTurbulence type="fractalNoise" baseFrequency="1.37 0.31" numOctaves="1" seed="3" result="n1"/>
<feTurbulence type="fractalNoise" baseFrequency="0.6 0.01" numOctaves="1" seed="11" result="n2"/>
<feTurbulence type="fractalNoise" baseFrequency="0.03 0.19" numOctaves="1" seed="5" result="n3"/>
<feColorMatrix in="n1" type="matrix" values="1 0 0 0 0  1 0 0 0 0  1 0 0 0 0  0 0 0 0 1" result="n1g"/>
<feColorMatrix in="n2" type="matrix" values="1 0 0 0 0  1 0 0 0 0  1 0 0 0 0  0 0 0 0 1" result="n2g"/>
<feColorMatrix in="n3" type="matrix" values="1 0 0 0 0  1 0 0 0 0  1 0 0 0 0  0 0 0 0 1" result="n3g"/>
<feComposite in="n1g" in2="n3g" operator="arithmetic" k1="0" k2="0.606" k3="0.200" k4="0.0971" result="n13q"/>
<feComposite in="n13q" in2="n2g" operator="arithmetic" k1="0" k2="1" k3="0.792" k4="-0.3958" result="nzg"/>
<feComposite in="base" in2="nzg" operator="arithmetic" k1="0" k2="1" k3="1" k4="-0.5"/>
</filter><filter id="spec20" x="133" y="259.5" width="836" height="8.0" filterUnits="userSpaceOnUse" color-interpolation-filters="sRGB">
<feColorMatrix in="SourceGraphic" type="matrix" values="1 1 -1 0 -0.5  1 1 -1 0 -0.5  1 1 -1 0 -0.5  0 0 0 0 1" result="base"/>
<feTurbulence type="fractalNoise" baseFrequency="1.37 0.31" numOctaves="1" seed="3" result="n1"/>
<feTurbulence type="fractalNoise" baseFrequency="0.6 0.01" numOctaves="1" seed="11" result="n2"/>
<feTurbulence type="fractalNoise" baseFrequency="0.03 0.19" numOctaves="1" seed="5" result="n3"/>
<feColorMatrix in="n1" type="matrix" values="1 0 0 0 0  1 0 0 0 0  1 0 0 0 0  0 0 0 0 1" result="n1g"/>
<feColorMatrix in="n2" type="matrix" values="1 0 0 0 0  1 0 0 0 0  1 0 0 0 0  0 0 0 0 1" result="n2g"/>
<feColorMatrix in="n3" type="matrix" values="1 0 0 0 0  1 0 0 0 0  1 0 0 0 0  0 0 0 0 1" result="n3g"/>
<feComposite in="n1g" in2="n3g" operator="arithmetic" k1="0" k2="0.612" k3="0.229" k4="0.0799" result="n13q"/>
<feComposite in="n13q" in2="n2g" operator="arithmetic" k1="0" k2="1" k3="0.792" k4="-0.3961" result="nzg"/>
<feComposite in="base" in2="nzg" operator="arithmetic" k1="0" k2="1" k3="1" k4="-0.5"/>
</filter><filter id="spec21" x="133" y="267.5" width="836" height="8.0" filterUnits="userSpaceOnUse" color-interpolation-filters="sRGB">
<feColorMatrix in="SourceGraphic" type="matrix" values="1 1 -1 0 -0.5  1 1 -1 0 -0.5  1 1 -1 0 -0.5  0 0 0 0 1" result="base"/>
<feTurbulence type="fractalNoise" baseFrequency="1.37 0.31" numOctaves="1" seed="3" result="n1"/>
<feTurbulence type="fractalNoise" baseFrequency="0.6 0.01" numOctaves="1" seed="11" result="n2"/>
<feTurbulence type="fractalNoise" baseFrequency="0.03 0.19" numOctaves="1" seed="5" result="n3"/>
<feColorMatrix in="n1" type="matrix" values="1 0 0 0 0  1 0 0 0 0  1 0 0 0 0  0 0 0 0 1" result="n1g"/>
<feColorMatrix in="n2" type="matrix" values="1 0 0 0 0  1 0 0 0 0  1 0 0 0 0  0 0 0 0 1" result="n2g"/>
<feColorMatrix in="n3" type="matrix" values="1 0 0 0 0  1 0 0 0 0  1 0 0 0 0  0 0 0 0 1" result="n3g"/>
<feComposite in="n1g" in2="n3g" operator="arithmetic" k1="0" k2="0.617" k3="0.257" k4="0.0626" result="n13q"/>
<feComposite in="n13q" in2="n2g" operator="arithmetic" k1="0" k2="1" k3="0.779" k4="-0.3896" result="nzg"/>
<feComposite in="base" in2="nzg" operator="arithmetic" k1="0" k2="1" k3="1" k4="-0.5"/>
</filter><filter id="spec22" x="133" y="275.5" width="836" height="8.0" filterUnits="userSpaceOnUse" color-interpolation-filters="sRGB">
<feColorMatrix in="SourceGraphic" type="matrix" values="1 1 -1 0 -0.5  1 1 -1 0 -0.5  1 1 -1 0 -0.5  0 0 0 0 1" result="base"/>
<feTurbulence type="fractalNoise" baseFrequency="1.37 0.31" numOctaves="1" seed="3" result="n1"/>
<feTurbulence type="fractalNoise" baseFrequency="0.6 0.01" numOctaves="1" seed="11" result="n2"/>
<feTurbulence type="fractalNoise" baseFrequency="0.03 0.19" numOctaves="1" seed="5" result="n3"/>
<feColorMatrix in="n1" type="matrix" values="1 0 0 0 0  1 0 0 0 0  1 0 0 0 0  0 0 0 0 1" result="n1g"/>
<feColorMatrix in="n2" type="matrix" values="1 0 0 0 0  1 0 0 0 0  1 0 0 0 0  0 0 0 0 1" result="n2g"/>
<feColorMatrix in="n3" type="matrix" values="1 0 0 0 0  1 0 0 0 0  1 0 0 0 0  0 0 0 0 1" result="n3g"/>
<feComposite in="n1g" in2="n3g" operator="arithmetic" k1="0" k2="0.623" k3="0.286" k4="0.0454" result="n13q"/>
<feComposite in="n13q" in2="n2g" operator="arithmetic" k1="0" k2="1" k3="0.766" k4="-0.3831" result="nzg"/>
<feComposite in="base" in2="nzg" operator="arithmetic" k1="0" k2="1" k3="1" k4="-0.5"/>
</filter><filter id="spec23" x="133" y="283.5" width="836" height="8.0" filterUnits="userSpaceOnUse" color-interpolation-filters="sRGB">
<feColorMatrix in="SourceGraphic" type="matrix" values="1 1 -1 0 -0.5  1 1 -1 0 -0.5  1 1 -1 0 -0.5  0 0 0 0 1" result="base"/>
<feTurbulence type="fractalNoise" baseFrequency="1.37 0.31" numOctaves="1" seed="3" result="n1"/>
<feTurbulence type="fractalNoise" baseFrequency="0.6 0.01" numOctaves="1" seed="11" result="n2"/>
<feTurbulence type="fractalNoise" baseFrequency="0.03 0.19" numOctaves="1" seed="5" result="n3"/>
<feColorMatrix in="n1" type="matrix" values="1 0 0 0 0  1 0 0 0 0  1 0 0 0 0  0 0 0 0 1" result="n1g"/>
<feColorMatrix in="n2" type="matrix" values="1 0 0 0 0  1 0 0 0 0  1 0 0 0 0  0 0 0 0 1" result="n2g"/>
<feColorMatrix in="n3" type="matrix" values="1 0 0 0 0  1 0 0 0 0  1 0 0 0 0  0 0 0 0 1" result="n3g"/>
<feComposite in="n1g" in2="n3g" operator="arithmetic" k1="0" k2="0.629" k3="0.315" k4="0.0282" result="n13q"/>
<feComposite in="n13q" in2="n2g" operator="arithmetic" k1="0" k2="1" k3="0.753" k4="-0.3766" result="nzg"/>
<feComposite in="base" in2="nzg" operator="arithmetic" k1="0" k2="1" k3="1" k4="-0.5"/>
</filter><filter id="spec24" x="133" y="291.5" width="836" height="8.0" filterUnits="userSpaceOnUse" color-interpolation-filters="sRGB">
<feColorMatrix in="SourceGraphic" type="matrix" values="1 1 -1 0 -0.5  1 1 -1 0 -0.5  1 1 -1 0 -0.5  0 0 0 0 1" result="base"/>
<feTurbulence type="fractalNoise" baseFrequency="1.37 0.31" numOctaves="1" seed="3" result="n1"/>
<feTurbulence type="fractalNoise" baseFrequency="0.6 0.01" numOctaves="1" seed="11" result="n2"/>
<feTurbulence type="fractalNoise" baseFrequency="0.03 0.19" numOctaves="1" seed="5" result="n3"/>
<feColorMatrix in="n1" type="matrix" values="1 0 0 0 0  1 0 0 0 0  1 0 0 0 0  0 0 0 0 1" result="n1g"/>
<feColorMatrix in="n2" type="matrix" values="1 0 0 0 0  1 0 0 0 0  1 0 0 0 0  0 0 0 0 1" result="n2g"/>
<feColorMatrix in="n3" type="matrix" values="1 0 0 0 0  1 0 0 0 0  1 0 0 0 0  0 0 0 0 1" result="n3g"/>
<feComposite in="n1g" in2="n3g" operator="arithmetic" k1="0" k2="0.634" k3="0.344" k4="0.0109" result="n13q"/>
<feComposite in="n13q" in2="n2g" operator="arithmetic" k1="0" k2="1" k3="0.740" k4="-0.3701" result="nzg"/>
<feComposite in="base" in2="nzg" operator="arithmetic" k1="0" k2="1" k3="1" k4="-0.5"/>
</filter><filter id="spec25" x="133" y="299.5" width="836" height="8.0" filterUnits="userSpaceOnUse" color-interpolation-filters="sRGB">
<feColorMatrix in="SourceGraphic" type="matrix" values="1 1 -1 0 -0.5  1 1 -1 0 -0.5  1 1 -1 0 -0.5  0 0 0 0 1" result="base"/>
<feTurbulence type="fractalNoise" baseFrequency="1.37 0.31" numOctaves="1" seed="3" result="n1"/>
<feTurbulence type="fractalNoise" baseFrequency="0.6 0.01" numOctaves="1" seed="11" result="n2"/>
<feTurbulence type="fractalNoise" baseFrequency="0.03 0.19" numOctaves="1" seed="5" result="n3"/>
<feColorMatrix in="n1" type="matrix" values="1 0 0 0 0  1 0 0 0 0  1 0 0 0 0  0 0 0 0 1" result="n1g"/>
<feColorMatrix in="n2" type="matrix" values="1 0 0 0 0  1 0 0 0 0  1 0 0 0 0  0 0 0 0 1" result="n2g"/>
<feColorMatrix in="n3" type="matrix" values="1 0 0 0 0  1 0 0 0 0  1 0 0 0 0  0 0 0 0 1" result="n3g"/>
<feComposite in="n1g" in2="n3g" operator="arithmetic" k1="0" k2="0.635" k3="0.367" k4="-0.0008" result="n13q"/>
<feComposite in="n13q" in2="n2g" operator="arithmetic" k1="0" k2="1" k3="0.727" k4="-0.3636" result="nzg"/>
<feComposite in="base" in2="nzg" operator="arithmetic" k1="0" k2="1" k3="1" k4="-0.5"/>
</filter><filter id="spec26" x="133" y="307.5" width="836" height="8.0" filterUnits="userSpaceOnUse" color-interpolation-filters="sRGB">
<feColorMatrix in="SourceGraphic" type="matrix" values="1 1 -1 0 -0.5  1 1 -1 0 -0.5  1 1 -1 0 -0.5  0 0 0 0 1" result="base"/>
<feTurbulence type="fractalNoise" baseFrequency="1.37 0.31" numOctaves="1" seed="3" result="n1"/>
<feTurbulence type="fractalNoise" baseFrequency="0.6 0.01" numOctaves="1" seed="11" result="n2"/>
<feTurbulence type="fractalNoise" baseFrequency="0.03 0.19" numOctaves="1" seed="5" result="n3"/>
<feColorMatrix in="n1" type="matrix" values="1 0 0 0 0  1 0 0 0 0  1 0 0 0 0  0 0 0 0 1" result="n1g"/>
<feColorMatrix in="n2" type="matrix" values="1 0 0 0 0  1 0 0 0 0  1 0 0 0 0  0 0 0 0 1" result="n2g"/>
<feColorMatrix in="n3" type="matrix" values="1 0 0 0 0  1 0 0 0 0  1 0 0 0 0  0 0 0 0 1" result="n3g"/>
<feComposite in="n1g" in2="n3g" operator="arithmetic" k1="0" k2="0.628" k3="0.383" k4="-0.0054" result="n13q"/>
<feComposite in="n13q" in2="n2g" operator="arithmetic" k1="0" k2="1" k3="0.714" k4="-0.3571" result="nzg"/>
<feComposite in="base" in2="nzg" operator="arithmetic" k1="0" k2="1" k3="1" k4="-0.5"/>
</filter><filter id="spec27" x="133" y="315.5" width="836" height="8.0" filterUnits="userSpaceOnUse" color-interpolation-filters="sRGB">
<feColorMatrix in="SourceGraphic" type="matrix" values="1 1 -1 0 -0.5  1 1 -1 0 -0.5  1 1 -1 0 -0.5  0 0 0 0 1" result="base"/>
<feTurbulence type="fractalNoise" baseFrequency="1.37 0.31" numOctaves="1" seed="3" result="n1"/>
<feTurbulence type="fractalNoise" baseFrequency="0.6 0.01" numOctaves="1" seed="11" result="n2"/>
<feTurbulence type="fractalNoise" baseFrequency="0.03 0.19" numOctaves="1" seed="5" result="n3"/>
<feColorMatrix in="n1" type="matrix" values="1 0 0 0 0  1 0 0 0 0  1 0 0 0 0  0 0 0 0 1" result="n1g"/>
<feColorMatrix in="n2" type="matrix" values="1 0 0 0 0  1 0 0 0 0  1 0 0 0 0  0 0 0 0 1" result="n2g"/>
<feColorMatrix in="n3" type="matrix" values="1 0 0 0 0  1 0 0 0 0  1 0 0 0 0  0 0 0 0 1" result="n3g"/>
<feComposite in="n1g" in2="n3g" operator="arithmetic" k1="0" k2="0.621" k3="0.399" k4="-0.0100" result="n13q"/>
<feComposite in="n13q" in2="n2g" operator="arithmetic" k1="0" k2="1" k3="0.701" k4="-0.3505" result="nzg"/>
<feComposite in="base" in2="nzg" operator="arithmetic" k1="0" k2="1" k3="1" k4="-0.5"/>
</filter><filter id="spec28" x="133" y="323.5" width="836" height="8.0" filterUnits="userSpaceOnUse" color-interpolation-filters="sRGB">
<feColorMatrix in="SourceGraphic" type="matrix" values="1 1 -1 0 -0.5  1 1 -1 0 -0.5  1 1 -1 0 -0.5  0 0 0 0 1" result="base"/>
<feTurbulence type="fractalNoise" baseFrequency="1.37 0.31" numOctaves="1" seed="3" result="n1"/>
<feTurbulence type="fractalNoise" baseFrequency="0.6 0.01" numOctaves="1" seed="11" result="n2"/>
<feTurbulence type="fractalNoise" baseFrequency="0.03 0.19" numOctaves="1" seed="5" result="n3"/>
<feColorMatrix in="n1" type="matrix" values="1 0 0 0 0  1 0 0 0 0  1 0 0 0 0  0 0 0 0 1" result="n1g"/>
<feColorMatrix in="n2" type="matrix" values="1 0 0 0 0  1 0 0 0 0  1 0 0 0 0  0 0 0 0 1" result="n2g"/>
<feColorMatrix in="n3" type="matrix" values="1 0 0 0 0  1 0 0 0 0  1 0 0 0 0  0 0 0 0 1" result="n3g"/>
<feComposite in="n1g" in2="n3g" operator="arithmetic" k1="0" k2="0.614" k3="0.415" k4="-0.0146" result="n13q"/>
<feComposite in="n13q" in2="n2g" operator="arithmetic" k1="0" k2="1" k3="0.688" k4="-0.3440" result="nzg"/>
<feComposite in="base" in2="nzg" operator="arithmetic" k1="0" k2="1" k3="1" k4="-0.5"/>
</filter><filter id="spec29" x="133" y="331.5" width="836" height="8.0" filterUnits="userSpaceOnUse" color-interpolation-filters="sRGB">
<feColorMatrix in="SourceGraphic" type="matrix" values="1 1 -1 0 -0.5  1 1 -1 0 -0.5  1 1 -1 0 -0.5  0 0 0 0 1" result="base"/>
<feTurbulence type="fractalNoise" baseFrequency="1.37 0.31" numOctaves="1" seed="3" result="n1"/>
<feTurbulence type="fractalNoise" baseFrequency="0.6 0.01" numOctaves="1" seed="11" result="n2"/>
<feTurbulence type="fractalNoise" baseFrequency="0.03 0.19" numOctaves="1" seed="5" result="n3"/>
<feColorMatrix in="n1" type="matrix" values="1 0 0 0 0  1 0 0 0 0  1 0 0 0 0  0 0 0 0 1" result="n1g"/>
<feColorMatrix in="n2" type="matrix" values="1 0 0 0 0  1 0 0 0 0  1 0 0 0 0  0 0 0 0 1" result="n2g"/>
<feColorMatrix in="n3" type="matrix" values="1 0 0 0 0  1 0 0 0 0  1 0 0 0 0  0 0 0 0 1" result="n3g"/>
<feComposite in="n1g" in2="n3g" operator="arithmetic" k1="0" k2="0.607" k3="0.431" k4="-0.0192" result="n13q"/>
<feComposite in="n13q" in2="n2g" operator="arithmetic" k1="0" k2="1" k3="0.670" k4="-0.3350" result="nzg"/>
<feComposite in="base" in2="nzg" operator="arithmetic" k1="0" k2="1" k3="1" k4="-0.5"/>
</filter><filter id="spec30" x="133" y="339.5" width="836" height="8.0" filterUnits="userSpaceOnUse" color-interpolation-filters="sRGB">
<feColorMatrix in="SourceGraphic" type="matrix" values="1 1 -1 0 -0.5  1 1 -1 0 -0.5  1 1 -1 0 -0.5  0 0 0 0 1" result="base"/>
<feTurbulence type="fractalNoise" baseFrequency="1.37 0.31" numOctaves="1" seed="3" result="n1"/>
<feTurbulence type="fractalNoise" baseFrequency="0.6 0.01" numOctaves="1" seed="11" result="n2"/>
<feTurbulence type="fractalNoise" baseFrequency="0.03 0.19" numOctaves="1" seed="5" result="n3"/>
<feColorMatrix in="n1" type="matrix" values="1 0 0 0 0  1 0 0 0 0  1 0 0 0 0  0 0 0 0 1" result="n1g"/>
<feColorMatrix in="n2" type="matrix" values="1 0 0 0 0  1 0 0 0 0  1 0 0 0 0  0 0 0 0 1" result="n2g"/>
<feColorMatrix in="n3" type="matrix" values="1 0 0 0 0  1 0 0 0 0  1 0 0 0 0  0 0 0 0 1" result="n3g"/>
<feComposite in="n1g" in2="n3g" operator="arithmetic" k1="0" k2="0.601" k3="0.447" k4="-0.0238" result="n13q"/>
<feComposite in="n13q" in2="n2g" operator="arithmetic" k1="0" k2="1" k3="0.650" k4="-0.3249" result="nzg"/>
<feComposite in="base" in2="nzg" operator="arithmetic" k1="0" k2="1" k3="1" k4="-0.5"/>
</filter><filter id="spec31" x="133" y="347.5" width="836" height="8.0" filterUnits="userSpaceOnUse" color-interpolation-filters="sRGB">
<feColorMatrix in="SourceGraphic" type="matrix" values="1 1 -1 0 -0.5  1 1 -1 0 -0.5  1 1 -1 0 -0.5  0 0 0 0 1" result="base"/>
<feTurbulence type="fractalNoise" baseFrequency="1.37 0.31" numOctaves="1" seed="3" result="n1"/>
<feTurbulence type="fractalNoise" baseFrequency="0.6 0.01" numOctaves="1" seed="11" result="n2"/>
<feTurbulence type="fractalNoise" baseFrequency="0.03 0.19" numOctaves="1" seed="5" result="n3"/>
<feColorMatrix in="n1" type="matrix" values="1 0 0 0 0  1 0 0 0 0  1 0 0 0 0  0 0 0 0 1" result="n1g"/>
<feColorMatrix in="n2" type="matrix" values="1 0 0 0 0  1 0 0 0 0  1 0 0 0 0  0 0 0 0 1" result="n2g"/>
<feColorMatrix in="n3" type="matrix" values="1 0 0 0 0  1 0 0 0 0  1 0 0 0 0  0 0 0 0 1" result="n3g"/>
<feComposite in="n1g" in2="n3g" operator="arithmetic" k1="0" k2="0.594" k3="0.463" k4="-0.0284" result="n13q"/>
<feComposite in="n13q" in2="n2g" operator="arithmetic" k1="0" k2="1" k3="0.630" k4="-0.3148" result="nzg"/>
<feComposite in="base" in2="nzg" operator="arithmetic" k1="0" k2="1" k3="1" k4="-0.5"/>
</filter><filter id="spec32" x="133" y="355.5" width="836" height="8.0" filterUnits="userSpaceOnUse" color-interpolation-filters="sRGB">
<feColorMatrix in="SourceGraphic" type="matrix" values="1 1 -1 0 -0.5  1 1 -1 0 -0.5  1 1 -1 0 -0.5  0 0 0 0 1" result="base"/>
<feTurbulence type="fractalNoise" baseFrequency="1.37 0.31" numOctaves="1" seed="3" result="n1"/>
<feTurbulence type="fractalNoise" baseFrequency="0.6 0.01" numOctaves="1" seed="11" result="n2"/>
<feTurbulence type="fractalNoise" baseFrequency="0.03 0.19" numOctaves="1" seed="5" result="n3"/>
<feColorMatrix in="n1" type="matrix" values="1 0 0 0 0  1 0 0 0 0  1 0 0 0 0  0 0 0 0 1" result="n1g"/>
<feColorMatrix in="n2" type="matrix" values="1 0 0 0 0  1 0 0 0 0  1 0 0 0 0  0 0 0 0 1" result="n2g"/>
<feColorMatrix in="n3" type="matrix" values="1 0 0 0 0  1 0 0 0 0  1 0 0 0 0  0 0 0 0 1" result="n3g"/>
<feComposite in="n1g" in2="n3g" operator="arithmetic" k1="0" k2="0.587" k3="0.479" k4="-0.0330" result="n13q"/>
<feComposite in="n13q" in2="n2g" operator="arithmetic" k1="0" k2="1" k3="0.609" k4="-0.3046" result="nzg"/>
<feComposite in="base" in2="nzg" operator="arithmetic" k1="0" k2="1" k3="1" k4="-0.5"/>
</filter><filter id="spec33" x="133" y="363.5" width="836" height="8.0" filterUnits="userSpaceOnUse" color-interpolation-filters="sRGB">
<feColorMatrix in="SourceGraphic" type="matrix" values="1 1 -1 0 -0.5  1 1 -1 0 -0.5  1 1 -1 0 -0.5  0 0 0 0 1" result="base"/>
<feTurbulence type="fractalNoise" baseFrequency="1.37 0.31" numOctaves="1" seed="3" result="n1"/>
<feTurbulence type="fractalNoise" baseFrequency="0.6 0.01" numOctaves="1" seed="11" result="n2"/>
<feTurbulence type="fractalNoise" baseFrequency="0.03 0.19" numOctaves="1" seed="5" result="n3"/>
<feColorMatrix in="n1" type="matrix" values="1 0 0 0 0  1 0 0 0 0  1 0 0 0 0  0 0 0 0 1" result="n1g"/>
<feColorMatrix in="n2" type="matrix" values="1 0 0 0 0  1 0 0 0 0  1 0 0 0 0  0 0 0 0 1" result="n2g"/>
<feColorMatrix in="n3" type="matrix" values="1 0 0 0 0  1 0 0 0 0  1 0 0 0 0  0 0 0 0 1" result="n3g"/>
<feComposite in="n1g" in2="n3g" operator="arithmetic" k1="0" k2="0.580" k3="0.495" k4="-0.0376" result="n13q"/>
<feComposite in="n13q" in2="n2g" operator="arithmetic" k1="0" k2="1" k3="0.589" k4="-0.2945" result="nzg"/>
<feComposite in="base" in2="nzg" operator="arithmetic" k1="0" k2="1" k3="1" k4="-0.5"/>
</filter><filter id="spec34" x="133" y="371.5" width="836" height="8.0" filterUnits="userSpaceOnUse" color-interpolation-filters="sRGB">
<feColorMatrix in="SourceGraphic" type="matrix" values="1 1 -1 0 -0.5  1 1 -1 0 -0.5  1 1 -1 0 -0.5  0 0 0 0 1" result="base"/>
<feTurbulence type="fractalNoise" baseFrequency="1.37 0.31" numOctaves="1" seed="3" result="n1"/>
<feTurbulence type="fractalNoise" baseFrequency="0.6 0.01" numOctaves="1" seed="11" result="n2"/>
<feTurbulence type="fractalNoise" baseFrequency="0.03 0.19" numOctaves="1" seed="5" result="n3"/>
<feColorMatrix in="n1" type="matrix" values="1 0 0 0 0  1 0 0 0 0  1 0 0 0 0  0 0 0 0 1" result="n1g"/>
<feColorMatrix in="n2" type="matrix" values="1 0 0 0 0  1 0 0 0 0  1 0 0 0 0  0 0 0 0 1" result="n2g"/>
<feColorMatrix in="n3" type="matrix" values="1 0 0 0 0  1 0 0 0 0  1 0 0 0 0  0 0 0 0 1" result="n3g"/>
<feComposite in="n1g" in2="n3g" operator="arithmetic" k1="0" k2="0.573" k3="0.511" k4="-0.0422" result="n13q"/>
<feComposite in="n13q" in2="n2g" operator="arithmetic" k1="0" k2="1" k3="0.569" k4="-0.2844" result="nzg"/>
<feComposite in="base" in2="nzg" operator="arithmetic" k1="0" k2="1" k3="1" k4="-0.5"/>
</filter><filter id="spec35" x="133" y="379.5" width="836" height="8.0" filterUnits="userSpaceOnUse" color-interpolation-filters="sRGB">
<feColorMatrix in="SourceGraphic" type="matrix" values="1 1 -1 0 -0.5  1 1 -1 0 -0.5  1 1 -1 0 -0.5  0 0 0 0 1" result="base"/>
<feTurbulence type="fractalNoise" baseFrequency="1.37 0.31" numOctaves="1" seed="3" result="n1"/>
<feTurbulence type="fractalNoise" baseFrequency="0.6 0.01" numOctaves="1" seed="11" result="n2"/>
<feTurbulence type="fractalNoise" baseFrequency="0.03 0.19" numOctaves="1" seed="5" result="n3"/>
<feColorMatrix in="n1" type="matrix" values="1 0 0 0 0  1 0 0 0 0  1 0 0 0 0  0 0 0 0 1" result="n1g"/>
<feColorMatrix in="n2" type="matrix" values="1 0 0 0 0  1 0 0 0 0  1 0 0 0 0  0 0 0 0 1" result="n2g"/>
<feColorMatrix in="n3" type="matrix" values="1 0 0 0 0  1 0 0 0 0  1 0 0 0 0  0 0 0 0 1" result="n3g"/>
<feComposite in="n1g" in2="n3g" operator="arithmetic" k1="0" k2="0.567" k3="0.527" k4="-0.0468" result="n13q"/>
<feComposite in="n13q" in2="n2g" operator="arithmetic" k1="0" k2="1" k3="0.548" k4="-0.2742" result="nzg"/>
<feComposite in="base" in2="nzg" operator="arithmetic" k1="0" k2="1" k3="1" k4="-0.5"/>
</filter><filter id="spec36" x="133" y="387.5" width="836" height="8.0" filterUnits="userSpaceOnUse" color-interpolation-filters="sRGB">
<feColorMatrix in="SourceGraphic" type="matrix" values="1 1 -1 0 -0.5  1 1 -1 0 -0.5  1 1 -1 0 -0.5  0 0 0 0 1" result="base"/>
<feTurbulence type="fractalNoise" baseFrequency="1.37 0.31" numOctaves="1" seed="3" result="n1"/>
<feTurbulence type="fractalNoise" baseFrequency="0.6 0.01" numOctaves="1" seed="11" result="n2"/>
<feTurbulence type="fractalNoise" baseFrequency="0.03 0.19" numOctaves="1" seed="5" result="n3"/>
<feColorMatrix in="n1" type="matrix" values="1 0 0 0 0  1 0 0 0 0  1 0 0 0 0  0 0 0 0 1" result="n1g"/>
<feColorMatrix in="n2" type="matrix" values="1 0 0 0 0  1 0 0 0 0  1 0 0 0 0  0 0 0 0 1" result="n2g"/>
<feColorMatrix in="n3" type="matrix" values="1 0 0 0 0  1 0 0 0 0  1 0 0 0 0  0 0 0 0 1" result="n3g"/>
<feComposite in="n1g" in2="n3g" operator="arithmetic" k1="0" k2="0.560" k3="0.543" k4="-0.0514" result="n13q"/>
<feComposite in="n13q" in2="n2g" operator="arithmetic" k1="0" k2="1" k3="0.528" k4="-0.2641" result="nzg"/>
<feComposite in="base" in2="nzg" operator="arithmetic" k1="0" k2="1" k3="1" k4="-0.5"/>
</filter><filter id="spec37" x="133" y="395.5" width="836" height="8.0" filterUnits="userSpaceOnUse" color-interpolation-filters="sRGB">
<feColorMatrix in="SourceGraphic" type="matrix" values="1 1 -1 0 -0.5  1 1 -1 0 -0.5  1 1 -1 0 -0.5  0 0 0 0 1" result="base"/>
<feTurbulence type="fractalNoise" baseFrequency="1.37 0.31" numOctaves="1" seed="3" result="n1"/>
<feTurbulence type="fractalNoise" baseFrequency="0.6 0.01" numOctaves="1" seed="11" result="n2"/>
<feTurbulence type="fractalNoise" baseFrequency="0.03 0.19" numOctaves="1" seed="5" result="n3"/>
<feColorMatrix in="n1" type="matrix" values="1 0 0 0 0  1 0 0 0 0  1 0 0 0 0  0 0 0 0 1" result="n1g"/>
<feColorMatrix in="n2" type="matrix" values="1 0 0 0 0  1 0 0 0 0  1 0 0 0 0  0 0 0 0 1" result="n2g"/>
<feColorMatrix in="n3" type="matrix" values="1 0 0 0 0  1 0 0 0 0  1 0 0 0 0  0 0 0 0 1" result="n3g"/>
<feComposite in="n1g" in2="n3g" operator="arithmetic" k1="0" k2="0.553" k3="0.559" k4="-0.0560" result="n13q"/>
<feComposite in="n13q" in2="n2g" operator="arithmetic" k1="0" k2="1" k3="0.508" k4="-0.2540" result="nzg"/>
<feComposite in="base" in2="nzg" operator="arithmetic" k1="0" k2="1" k3="1" k4="-0.5"/>
</filter><filter id="spec38" x="133" y="403.5" width="836" height="8.0" filterUnits="userSpaceOnUse" color-interpolation-filters="sRGB">
<feColorMatrix in="SourceGraphic" type="matrix" values="1 1 -1 0 -0.5  1 1 -1 0 -0.5  1 1 -1 0 -0.5  0 0 0 0 1" result="base"/>
<feTurbulence type="fractalNoise" baseFrequency="1.37 0.31" numOctaves="1" seed="3" result="n1"/>
<feTurbulence type="fractalNoise" baseFrequency="0.6 0.01" numOctaves="1" seed="11" result="n2"/>
<feTurbulence type="fractalNoise" baseFrequency="0.03 0.19" numOctaves="1" seed="5" result="n3"/>
<feColorMatrix in="n1" type="matrix" values="1 0 0 0 0  1 0 0 0 0  1 0 0 0 0  0 0 0 0 1" result="n1g"/>
<feColorMatrix in="n2" type="matrix" values="1 0 0 0 0  1 0 0 0 0  1 0 0 0 0  0 0 0 0 1" result="n2g"/>
<feColorMatrix in="n3" type="matrix" values="1 0 0 0 0  1 0 0 0 0  1 0 0 0 0  0 0 0 0 1" result="n3g"/>
<feComposite in="n1g" in2="n3g" operator="arithmetic" k1="0" k2="0.546" k3="0.575" k4="-0.0606" result="n13q"/>
<feComposite in="n13q" in2="n2g" operator="arithmetic" k1="0" k2="1" k3="0.488" k4="-0.2438" result="nzg"/>
<feComposite in="base" in2="nzg" operator="arithmetic" k1="0" k2="1" k3="1" k4="-0.5"/>
</filter><filter id="spec39" x="133" y="411.5" width="836" height="8.0" filterUnits="userSpaceOnUse" color-interpolation-filters="sRGB">
<feColorMatrix in="SourceGraphic" type="matrix" values="1 1 -1 0 -0.5  1 1 -1 0 -0.5  1 1 -1 0 -0.5  0 0 0 0 1" result="base"/>
<feTurbulence type="fractalNoise" baseFrequency="1.37 0.31" numOctaves="1" seed="3" result="n1"/>
<feTurbulence type="fractalNoise" baseFrequency="0.6 0.01" numOctaves="1" seed="11" result="n2"/>
<feTurbulence type="fractalNoise" baseFrequency="0.03 0.19" numOctaves="1" seed="5" result="n3"/>
<feColorMatrix in="n1" type="matrix" values="1 0 0 0 0  1 0 0 0 0  1 0 0 0 0  0 0 0 0 1" result="n1g"/>
<feColorMatrix in="n2" type="matrix" values="1 0 0 0 0  1 0 0 0 0  1 0 0 0 0  0 0 0 0 1" result="n2g"/>
<feColorMatrix in="n3" type="matrix" values="1 0 0 0 0  1 0 0 0 0  1 0 0 0 0  0 0 0 0 1" result="n3g"/>
<feComposite in="n1g" in2="n3g" operator="arithmetic" k1="0" k2="0.539" k3="0.591" k4="-0.0652" result="n13q"/>
<feComposite in="n13q" in2="n2g" operator="arithmetic" k1="0" k2="1" k3="0.467" k4="-0.2337" result="nzg"/>
<feComposite in="base" in2="nzg" operator="arithmetic" k1="0" k2="1" k3="1" k4="-0.5"/>
</filter><filter id="spec40" x="133" y="419.5" width="836" height="8.0" filterUnits="userSpaceOnUse" color-interpolation-filters="sRGB">
<feColorMatrix in="SourceGraphic" type="matrix" values="1 1 -1 0 -0.5  1 1 -1 0 -0.5  1 1 -1 0 -0.5  0 0 0 0 1" result="base"/>
<feTurbulence type="fractalNoise" baseFrequency="1.37 0.31" numOctaves="1" seed="3" result="n1"/>
<feTurbulence type="fractalNoise" baseFrequency="0.6 0.01" numOctaves="1" seed="11" result="n2"/>
<feTurbulence type="fractalNoise" baseFrequency="0.03 0.19" numOctaves="1" seed="5" result="n3"/>
<feColorMatrix in="n1" type="matrix" values="1 0 0 0 0  1 0 0 0 0  1 0 0 0 0  0 0 0 0 1" result="n1g"/>
<feColorMatrix in="n2" type="matrix" values="1 0 0 0 0  1 0 0 0 0  1 0 0 0 0  0 0 0 0 1" result="n2g"/>
<feColorMatrix in="n3" type="matrix" values="1 0 0 0 0  1 0 0 0 0  1 0 0 0 0  0 0 0 0 1" result="n3g"/>
<feComposite in="n1g" in2="n3g" operator="arithmetic" k1="0" k2="0.533" k3="0.607" k4="-0.0698" result="n13q"/>
<feComposite in="n13q" in2="n2g" operator="arithmetic" k1="0" k2="1" k3="0.454" k4="-0.2268" result="nzg"/>
<feComposite in="base" in2="nzg" operator="arithmetic" k1="0" k2="1" k3="1" k4="-0.5"/>
</filter><filter id="spec41" x="133" y="427.5" width="836" height="20.0" filterUnits="userSpaceOnUse" color-interpolation-filters="sRGB">
<feColorMatrix in="SourceGraphic" type="matrix" values="1 1 -1 0 -0.5  1 1 -1 0 -0.5  1 1 -1 0 -0.5  0 0 0 0 1" result="base"/>
<feTurbulence type="fractalNoise" baseFrequency="1.37 0.31" numOctaves="1" seed="3" result="n1"/>
<feTurbulence type="fractalNoise" baseFrequency="0.6 0.01" numOctaves="1" seed="11" result="n2"/>
<feTurbulence type="fractalNoise" baseFrequency="0.03 0.19" numOctaves="1" seed="5" result="n3"/>
<feColorMatrix in="n1" type="matrix" values="1 0 0 0 0  1 0 0 0 0  1 0 0 0 0  0 0 0 0 1" result="n1g"/>
<feColorMatrix in="n2" type="matrix" values="1 0 0 0 0  1 0 0 0 0  1 0 0 0 0  0 0 0 0 1" result="n2g"/>
<feColorMatrix in="n3" type="matrix" values="1 0 0 0 0  1 0 0 0 0  1 0 0 0 0  0 0 0 0 1" result="n3g"/>
<feComposite in="n1g" in2="n3g" operator="arithmetic" k1="0" k2="0.521" k3="0.635" k4="-0.0778" result="n13q"/>
<feComposite in="n13q" in2="n2g" operator="arithmetic" k1="0" k2="1" k3="0.444" k4="-0.2218" result="nzg"/>
<feComposite in="base" in2="nzg" operator="arithmetic" k1="0" k2="1" k3="1" k4="-0.5"/>
</filter><filter id="spec42" x="133" y="447.5" width="836" height="20.0" filterUnits="userSpaceOnUse" color-interpolation-filters="sRGB">
<feColorMatrix in="SourceGraphic" type="matrix" values="1 1 -1 0 -0.5  1 1 -1 0 -0.5  1 1 -1 0 -0.5  0 0 0 0 1" result="base"/>
<feTurbulence type="fractalNoise" baseFrequency="1.37 0.31" numOctaves="1" seed="3" result="n1"/>
<feTurbulence type="fractalNoise" baseFrequency="0.6 0.01" numOctaves="1" seed="11" result="n2"/>
<feTurbulence type="fractalNoise" baseFrequency="0.03 0.19" numOctaves="1" seed="5" result="n3"/>
<feColorMatrix in="n1" type="matrix" values="1 0 0 0 0  1 0 0 0 0  1 0 0 0 0  0 0 0 0 1" result="n1g"/>
<feColorMatrix in="n2" type="matrix" values="1 0 0 0 0  1 0 0 0 0  1 0 0 0 0  0 0 0 0 1" result="n2g"/>
<feColorMatrix in="n3" type="matrix" values="1 0 0 0 0  1 0 0 0 0  1 0 0 0 0  0 0 0 0 1" result="n3g"/>
<feComposite in="n1g" in2="n3g" operator="arithmetic" k1="0" k2="0.507" k3="0.657" k4="-0.0818" result="n13q"/>
<feComposite in="n13q" in2="n2g" operator="arithmetic" k1="0" k2="1" k3="0.430" k4="-0.2148" result="nzg"/>
<feComposite in="base" in2="nzg" operator="arithmetic" k1="0" k2="1" k3="1" k4="-0.5"/>
</filter><filter id="spec43" x="133" y="467.5" width="836" height="20.0" filterUnits="userSpaceOnUse" color-interpolation-filters="sRGB">
<feColorMatrix in="SourceGraphic" type="matrix" values="1 1 -1 0 -0.5  1 1 -1 0 -0.5  1 1 -1 0 -0.5  0 0 0 0 1" result="base"/>
<feTurbulence type="fractalNoise" baseFrequency="1.37 0.31" numOctaves="1" seed="3" result="n1"/>
<feTurbulence type="fractalNoise" baseFrequency="0.6 0.01" numOctaves="1" seed="11" result="n2"/>
<feTurbulence type="fractalNoise" baseFrequency="0.03 0.19" numOctaves="1" seed="5" result="n3"/>
<feColorMatrix in="n1" type="matrix" values="1 0 0 0 0  1 0 0 0 0  1 0 0 0 0  0 0 0 0 1" result="n1g"/>
<feColorMatrix in="n2" type="matrix" values="1 0 0 0 0  1 0 0 0 0  1 0 0 0 0  0 0 0 0 1" result="n2g"/>
<feColorMatrix in="n3" type="matrix" values="1 0 0 0 0  1 0 0 0 0  1 0 0 0 0  0 0 0 0 1" result="n3g"/>
<feComposite in="n1g" in2="n3g" operator="arithmetic" k1="0" k2="0.499" k3="0.647" k4="-0.0732" result="n13q"/>
<feComposite in="n13q" in2="n2g" operator="arithmetic" k1="0" k2="1" k3="0.415" k4="-0.2077" result="nzg"/>
<feComposite in="base" in2="nzg" operator="arithmetic" k1="0" k2="1" k3="1" k4="-0.5"/>
</filter><filter id="spec44" x="133" y="487.5" width="836" height="20.0" filterUnits="userSpaceOnUse" color-interpolation-filters="sRGB">
<feColorMatrix in="SourceGraphic" type="matrix" values="1 1 -1 0 -0.5  1 1 -1 0 -0.5  1 1 -1 0 -0.5  0 0 0 0 1" result="base"/>
<feTurbulence type="fractalNoise" baseFrequency="1.37 0.31" numOctaves="1" seed="3" result="n1"/>
<feTurbulence type="fractalNoise" baseFrequency="0.6 0.01" numOctaves="1" seed="11" result="n2"/>
<feTurbulence type="fractalNoise" baseFrequency="0.03 0.19" numOctaves="1" seed="5" result="n3"/>
<feColorMatrix in="n1" type="matrix" values="1 0 0 0 0  1 0 0 0 0  1 0 0 0 0  0 0 0 0 1" result="n1g"/>
<feColorMatrix in="n2" type="matrix" values="1 0 0 0 0  1 0 0 0 0  1 0 0 0 0  0 0 0 0 1" result="n2g"/>
<feColorMatrix in="n3" type="matrix" values="1 0 0 0 0  1 0 0 0 0  1 0 0 0 0  0 0 0 0 1" result="n3g"/>
<feComposite in="n1g" in2="n3g" operator="arithmetic" k1="0" k2="0.491" k3="0.638" k4="-0.0645" result="n13q"/>
<feComposite in="n13q" in2="n2g" operator="arithmetic" k1="0" k2="1" k3="0.401" k4="-0.2007" result="nzg"/>
<feComposite in="base" in2="nzg" operator="arithmetic" k1="0" k2="1" k3="1" k4="-0.5"/>
</filter><filter id="spec45" x="133" y="507.5" width="836" height="20.0" filterUnits="userSpaceOnUse" color-interpolation-filters="sRGB">
<feColorMatrix in="SourceGraphic" type="matrix" values="1 1 -1 0 -0.5  1 1 -1 0 -0.5  1 1 -1 0 -0.5  0 0 0 0 1" result="base"/>
<feTurbulence type="fractalNoise" baseFrequency="1.37 0.31" numOctaves="1" seed="3" result="n1"/>
<feTurbulence type="fractalNoise" baseFrequency="0.6 0.01" numOctaves="1" seed="11" result="n2"/>
<feTurbulence type="fractalNoise" baseFrequency="0.03 0.19" numOctaves="1" seed="5" result="n3"/>
<feColorMatrix in="n1" type="matrix" values="1 0 0 0 0  1 0 0 0 0  1 0 0 0 0  0 0 0 0 1" result="n1g"/>
<feColorMatrix in="n2" type="matrix" values="1 0 0 0 0  1 0 0 0 0  1 0 0 0 0  0 0 0 0 1" result="n2g"/>
<feColorMatrix in="n3" type="matrix" values="1 0 0 0 0  1 0 0 0 0  1 0 0 0 0  0 0 0 0 1" result="n3g"/>
<feComposite in="n1g" in2="n3g" operator="arithmetic" k1="0" k2="0.483" k3="0.629" k4="-0.0559" result="n13q"/>
<feComposite in="n13q" in2="n2g" operator="arithmetic" k1="0" k2="1" k3="0.387" k4="-0.1936" result="nzg"/>
<feComposite in="base" in2="nzg" operator="arithmetic" k1="0" k2="1" k3="1" k4="-0.5"/>
</filter><filter id="spec46" x="133" y="527.5" width="836" height="20.0" filterUnits="userSpaceOnUse" color-interpolation-filters="sRGB">
<feColorMatrix in="SourceGraphic" type="matrix" values="1 1 -1 0 -0.5  1 1 -1 0 -0.5  1 1 -1 0 -0.5  0 0 0 0 1" result="base"/>
<feTurbulence type="fractalNoise" baseFrequency="1.37 0.31" numOctaves="1" seed="3" result="n1"/>
<feTurbulence type="fractalNoise" baseFrequency="0.6 0.01" numOctaves="1" seed="11" result="n2"/>
<feTurbulence type="fractalNoise" baseFrequency="0.03 0.19" numOctaves="1" seed="5" result="n3"/>
<feColorMatrix in="n1" type="matrix" values="1 0 0 0 0  1 0 0 0 0  1 0 0 0 0  0 0 0 0 1" result="n1g"/>
<feColorMatrix in="n2" type="matrix" values="1 0 0 0 0  1 0 0 0 0  1 0 0 0 0  0 0 0 0 1" result="n2g"/>
<feColorMatrix in="n3" type="matrix" values="1 0 0 0 0  1 0 0 0 0  1 0 0 0 0  0 0 0 0 1" result="n3g"/>
<feComposite in="n1g" in2="n3g" operator="arithmetic" k1="0" k2="0.475" k3="0.620" k4="-0.0473" result="n13q"/>
<feComposite in="n13q" in2="n2g" operator="arithmetic" k1="0" k2="1" k3="0.373" k4="-0.1866" result="nzg"/>
<feComposite in="base" in2="nzg" operator="arithmetic" k1="0" k2="1" k3="1" k4="-0.5"/>
</filter><filter id="spec47" x="133" y="547.5" width="836" height="20.0" filterUnits="userSpaceOnUse" color-interpolation-filters="sRGB">
<feColorMatrix in="SourceGraphic" type="matrix" values="1 1 -1 0 -0.5  1 1 -1 0 -0.5  1 1 -1 0 -0.5  0 0 0 0 1" result="base"/>
<feTurbulence type="fractalNoise" baseFrequency="1.37 0.31" numOctaves="1" seed="3" result="n1"/>
<feTurbulence type="fractalNoise" baseFrequency="0.6 0.01" numOctaves="1" seed="11" result="n2"/>
<feTurbulence type="fractalNoise" baseFrequency="0.03 0.19" numOctaves="1" seed="5" result="n3"/>
<feColorMatrix in="n1" type="matrix" values="1 0 0 0 0  1 0 0 0 0  1 0 0 0 0  0 0 0 0 1" result="n1g"/>
<feColorMatrix in="n2" type="matrix" values="1 0 0 0 0  1 0 0 0 0  1 0 0 0 0  0 0 0 0 1" result="n2g"/>
<feColorMatrix in="n3" type="matrix" values="1 0 0 0 0  1 0 0 0 0  1 0 0 0 0  0 0 0 0 1" result="n3g"/>
<feComposite in="n1g" in2="n3g" operator="arithmetic" k1="0" k2="0.467" k3="0.610" k4="-0.0387" result="n13q"/>
<feComposite in="n13q" in2="n2g" operator="arithmetic" k1="0" k2="1" k3="0.359" k4="-0.1795" result="nzg"/>
<feComposite in="base" in2="nzg" operator="arithmetic" k1="0" k2="1" k3="1" k4="-0.5"/>
</filter><filter id="spec48" x="133" y="567.5" width="836" height="20.0" filterUnits="userSpaceOnUse" color-interpolation-filters="sRGB">
<feColorMatrix in="SourceGraphic" type="matrix" values="1 1 -1 0 -0.5  1 1 -1 0 -0.5  1 1 -1 0 -0.5  0 0 0 0 1" result="base"/>
<feTurbulence type="fractalNoise" baseFrequency="1.37 0.31" numOctaves="1" seed="3" result="n1"/>
<feTurbulence type="fractalNoise" baseFrequency="0.6 0.01" numOctaves="1" seed="11" result="n2"/>
<feTurbulence type="fractalNoise" baseFrequency="0.03 0.19" numOctaves="1" seed="5" result="n3"/>
<feColorMatrix in="n1" type="matrix" values="1 0 0 0 0  1 0 0 0 0  1 0 0 0 0  0 0 0 0 1" result="n1g"/>
<feColorMatrix in="n2" type="matrix" values="1 0 0 0 0  1 0 0 0 0  1 0 0 0 0  0 0 0 0 1" result="n2g"/>
<feColorMatrix in="n3" type="matrix" values="1 0 0 0 0  1 0 0 0 0  1 0 0 0 0  0 0 0 0 1" result="n3g"/>
<feComposite in="n1g" in2="n3g" operator="arithmetic" k1="0" k2="0.459" k3="0.601" k4="-0.0301" result="n13q"/>
<feComposite in="n13q" in2="n2g" operator="arithmetic" k1="0" k2="1" k3="0.345" k4="-0.1725" result="nzg"/>
<feComposite in="base" in2="nzg" operator="arithmetic" k1="0" k2="1" k3="1" k4="-0.5"/>
</filter><filter id="spec49" x="133" y="587.5" width="836" height="20.0" filterUnits="userSpaceOnUse" color-interpolation-filters="sRGB">
<feColorMatrix in="SourceGraphic" type="matrix" values="1 1 -1 0 -0.5  1 1 -1 0 -0.5  1 1 -1 0 -0.5  0 0 0 0 1" result="base"/>
<feTurbulence type="fractalNoise" baseFrequency="1.37 0.31" numOctaves="1" seed="3" result="n1"/>
<feTurbulence type="fractalNoise" baseFrequency="0.6 0.01" numOctaves="1" seed="11" result="n2"/>
<feTurbulence type="fractalNoise" baseFrequency="0.03 0.19" numOctaves="1" seed="5" result="n3"/>
<feColorMatrix in="n1" type="matrix" values="1 0 0 0 0  1 0 0 0 0  1 0 0 0 0  0 0 0 0 1" result="n1g"/>
<feColorMatrix in="n2" type="matrix" values="1 0 0 0 0  1 0 0 0 0  1 0 0 0 0  0 0 0 0 1" result="n2g"/>
<feColorMatrix in="n3" type="matrix" values="1 0 0 0 0  1 0 0 0 0  1 0 0 0 0  0 0 0 0 1" result="n3g"/>
<feComposite in="n1g" in2="n3g" operator="arithmetic" k1="0" k2="0.451" k3="0.562" k4="-0.0064" result="n13q"/>
<feComposite in="n13q" in2="n2g" operator="arithmetic" k1="0" k2="1" k3="0.331" k4="-0.1654" result="nzg"/>
<feComposite in="base" in2="nzg" operator="arithmetic" k1="0" k2="1" k3="1" k4="-0.5"/>
</filter><filter id="spec50" x="133" y="607.5" width="836" height="20.0" filterUnits="userSpaceOnUse" color-interpolation-filters="sRGB">
<feColorMatrix in="SourceGraphic" type="matrix" values="1 1 -1 0 -0.5  1 1 -1 0 -0.5  1 1 -1 0 -0.5  0 0 0 0 1" result="base"/>
<feTurbulence type="fractalNoise" baseFrequency="1.37 0.31" numOctaves="1" seed="3" result="n1"/>
<feTurbulence type="fractalNoise" baseFrequency="0.6 0.01" numOctaves="1" seed="11" result="n2"/>
<feTurbulence type="fractalNoise" baseFrequency="0.03 0.19" numOctaves="1" seed="5" result="n3"/>
<feColorMatrix in="n1" type="matrix" values="1 0 0 0 0  1 0 0 0 0  1 0 0 0 0  0 0 0 0 1" result="n1g"/>
<feColorMatrix in="n2" type="matrix" values="1 0 0 0 0  1 0 0 0 0  1 0 0 0 0  0 0 0 0 1" result="n2g"/>
<feColorMatrix in="n3" type="matrix" values="1 0 0 0 0  1 0 0 0 0  1 0 0 0 0  0 0 0 0 1" result="n3g"/>
<feComposite in="n1g" in2="n3g" operator="arithmetic" k1="0" k2="0.443" k3="0.518" k4="0.0194" result="n13q"/>
<feComposite in="n13q" in2="n2g" operator="arithmetic" k1="0" k2="1" k3="0.317" k4="-0.1584" result="nzg"/>
<feComposite in="base" in2="nzg" operator="arithmetic" k1="0" k2="1" k3="1" k4="-0.5"/>
</filter><filter id="spec51" x="133" y="627.5" width="836" height="20.0" filterUnits="userSpaceOnUse" color-interpolation-filters="sRGB">
<feColorMatrix in="SourceGraphic" type="matrix" values="1 1 -1 0 -0.5  1 1 -1 0 -0.5  1 1 -1 0 -0.5  0 0 0 0 1" result="base"/>
<feTurbulence type="fractalNoise" baseFrequency="1.37 0.31" numOctaves="1" seed="3" result="n1"/>
<feTurbulence type="fractalNoise" baseFrequency="0.6 0.01" numOctaves="1" seed="11" result="n2"/>
<feTurbulence type="fractalNoise" baseFrequency="0.03 0.19" numOctaves="1" seed="5" result="n3"/>
<feColorMatrix in="n1" type="matrix" values="1 0 0 0 0  1 0 0 0 0  1 0 0 0 0  0 0 0 0 1" result="n1g"/>
<feColorMatrix in="n2" type="matrix" values="1 0 0 0 0  1 0 0 0 0  1 0 0 0 0  0 0 0 0 1" result="n2g"/>
<feColorMatrix in="n3" type="matrix" values="1 0 0 0 0  1 0 0 0 0  1 0 0 0 0  0 0 0 0 1" result="n3g"/>
<feComposite in="n1g" in2="n3g" operator="arithmetic" k1="0" k2="0.435" k3="0.475" k4="0.0452" result="n13q"/>
<feComposite in="n13q" in2="n2g" operator="arithmetic" k1="0" k2="1" k3="0.303" k4="-0.1513" result="nzg"/>
<feComposite in="base" in2="nzg" operator="arithmetic" k1="0" k2="1" k3="1" k4="-0.5"/>
</filter><filter id="spec52" x="133" y="647.5" width="836" height="15.5" filterUnits="userSpaceOnUse" color-interpolation-filters="sRGB">
<feColorMatrix in="SourceGraphic" type="matrix" values="1 1 -1 0 -0.5  1 1 -1 0 -0.5  1 1 -1 0 -0.5  0 0 0 0 1" result="base"/>
<feTurbulence type="fractalNoise" baseFrequency="1.37 0.31" numOctaves="1" seed="3" result="n1"/>
<feTurbulence type="fractalNoise" baseFrequency="0.6 0.01" numOctaves="1" seed="11" result="n2"/>
<feTurbulence type="fractalNoise" baseFrequency="0.03 0.19" numOctaves="1" seed="5" result="n3"/>
<feColorMatrix in="n1" type="matrix" values="1 0 0 0 0  1 0 0 0 0  1 0 0 0 0  0 0 0 0 1" result="n1g"/>
<feColorMatrix in="n2" type="matrix" values="1 0 0 0 0  1 0 0 0 0  1 0 0 0 0  0 0 0 0 1" result="n2g"/>
<feColorMatrix in="n3" type="matrix" values="1 0 0 0 0  1 0 0 0 0  1 0 0 0 0  0 0 0 0 1" result="n3g"/>
<feComposite in="n1g" in2="n3g" operator="arithmetic" k1="0" k2="0.428" k3="0.436" k4="0.0681" result="n13q"/>
<feComposite in="n13q" in2="n2g" operator="arithmetic" k1="0" k2="1" k3="0.290" k4="-0.1451" result="nzg"/>
<feComposite in="base" in2="nzg" operator="arithmetic" k1="0" k2="1" k3="1" k4="-0.5"/>
</filter><filter id="cmap" x="133" y="99.5" width="836" height="563.5" filterUnits="userSpaceOnUse" color-interpolation-filters="sRGB"><feComponentTransfer><feFuncR type="table" tableValues="0.000 0.008 0.016 0.027 0.043 0.063 0.082 0.106 0.129 0.157 0.184 0.220 0.243 0.271 0.298 0.322 0.349 0.373 0.396 0.424 0.447 0.471 0.498 0.522 0.549 0.573 0.596 0.624 0.647 0.671 0.694 0.718 0.749 0.769 0.792 0.812 0.831 0.851 0.871 0.886 0.902 0.918 0.929 0.941 0.953 0.961 0.969 0.976 0.980 0.984 0.988 0.988 0.988 0.984 0.980 0.976 0.969 0.961 0.957 0.949 0.945 0.953 0.965 0.988"/><feFuncG type="table" tableValues="0.000 0.004 0.012 0.020 0.027 0.035 0.043 0.047 0.047 0.043 0.039 0.035 0.035 0.039 0.047 0.055 0.063 0.075 0.082 0.094 0.102 0.110 0.118 0.129 0.137 0.145 0.153 0.165 0.173 0.184 0.196 0.208 0.224 0.235 0.251 0.267 0.282 0.302 0.322 0.341 0.365 0.388 0.412 0.435 0.463 0.490 0.518 0.545 0.573 0.600 0.631 0.659 0.690 0.729 0.761 0.788 0.820 0.851 0.882 0.910 0.937 0.961 0.980 1.000"/><feFuncB type="table" tableValues="0.016 0.039 0.071 0.106 0.141 0.176 0.216 0.255 0.290 0.325 0.357 0.384 0.400 0.412 0.420 0.427 0.431 0.431 0.431 0.431 0.431 0.427 0.424 0.420 0.412 0.408 0.400 0.388 0.376 0.369 0.353 0.341 0.322 0.306 0.290 0.275 0.259 0.239 0.220 0.204 0.184 0.165 0.145 0.125 0.106 0.082 0.063 0.043 0.027 0.024 0.031 0.051 0.078 0.122 0.157 0.196 0.239 0.286 0.337 0.396 0.459 0.525 0.588 0.643"/></feComponentTransfer></filter></defs>
<rect width="1200" height="750" fill="#fff"/>
<g shape-rendering="crispEdges"><rect x="133" y="55.5" width="836" height="44.5" fill="#000004"/>
<g filter="url(#cmap)"><use href="#sc" filter="url(#spec0)"/><use href="#sc" filter="url(#spec1)"/><use href="#sc" filter="url(#spec2)"/><use href="#sc" filter="url(#spec3)"/><use href="#sc" filter="url(#spec4)"/><use href="#sc" filter="url(#spec5)"/><use href="#sc" filter="url(#spec6)"/><use href="#sc" filter="url(#spec7)"/><use href="#sc" filter="url(#spec8)"/><use href="#sc" filter="url(#spec9)"/><use href="#sc" filter="url(#spec10)"/><use href="#sc" filter="url(#spec11)"/><use href="#sc" filter="url(#spec12)"/><use href="#sc" filter="url(#spec13)"/><use href="#sc" filter="url(#spec14)"/><use href="#sc" filter="url(#spec15)"/><use href="#sc" filter="url(#spec16)"/><use href="#sc" filter="url(#spec17)"/><use href="#sc" filter="url(#spec18)"/><use href="#sc" filter="url(#spec19)"/><use href="#sc" filter="url(#spec20)"/><use href="#sc" filter="url(#spec21)"/><use href="#sc" filter="url(#spec22)"/><use href="#sc" filter="url(#spec23)"/><use href="#sc" filter="url(#spec24)"/><use href="#sc" filter="url(#spec25)"/><use href="#sc" filter="url(#spec26)"/><use href="#sc" filter="url(#spec27)"/><use href="#sc" filter="url(#spec28)"/><use href="#sc" filter="url(#spec29)"/><use href="#sc" filter="url(#spec30)"/><use href="#sc" filter="url(#spec31)"/><use href="#sc" filter="url(#spec32)"/><use href="#sc" filter="url(#spec33)"/><use href="#sc" filter="url(#spec34)"/><use href="#sc" filter="url(#spec35)"/><use href="#sc" filter="url(#spec36)"/><use href="#sc" filter="url(#spec37)"/><use href="#sc" filter="url(#spec38)"/><use href="#sc" filter="url(#spec39)"/><use href="#sc" filter="url(#spec40)"/><use href="#sc" filter="url(#spec41)"/><use href="#sc" filter="url(#spec42)"/><use href="#sc" filter="url(#spec43)"/><use href="#sc" filter="url(#spec44)"/><use href="#sc" filter="url(#spec45)"/><use href="#sc" filter="url(#spec46)"/><use href="#sc" filter="url(#spec47)"/><use href="#sc" filter="url(#spec48)"/><use href="#sc" filter="url(#spec49)"/><use href="#sc" filter="url(#spec50)"/><use href="#sc" filter="url(#spec51)"/><use href="#sc" filter="url(#spec52)"/></g>
<rect x="1021" y="56" width="30" height="607" fill="url(#cb)"/>
<rect x="132" y="55" width="838" height="2" fill="#000" fill-opacity="0.835"/>
<rect x="132" y="662" width="838" height="2" fill="#000" fill-opacity="0.835"/>
<rect x="132" y="57" width="2" height="605" fill="#000" fill-opacity="0.835"/>
<rect x="968" y="57" width="2" height="605" fill="#000" fill-opacity="0.835"/>
<rect x="1020" y="55" width="32" height="2" fill="#000" fill-opacity="0.835"/>
<rect x="1020" y="662" width="32" height="2" fill="#000" fill-opacity="0.835"/>
<rect x="1020" y="57" width="2" height="605" fill="#000" fill-opacity="0.835"/>
<rect x="1050" y="57" width="2" height="605" fill="#000" fill-opacity="0.835"/>
<rect x="126" y="97" width="6" height="2" fill="#000" fill-opacity="0.835"/>
<rect x="126" y="190" width="6" height="2" fill="#000" fill-opacity="0.835"/>
<rect x="126" y="283" width="6" height="2" fill="#000" fill-opacity="0.835"/>
<rect x="126" y="376" width="6" height="2" fill="#000" fill-opacity="0.835"/>
<rect x="126" y="470" width="6" height="2" fill="#000" fill-opacity="0.835"/>
<rect x="126" y="564" width="6" height="2" fill="#000" fill-opacity="0.835"/>
<rect x="126" y="659" width="6" height="2" fill="#000" fill-opacity="0.835"/>
<rect x="132" y="664" width="2" height="6" fill="#000" fill-opacity="0.835"/>
<rect x="351" y="664" width="2" height="6" fill="#000" fill-opacity="0.835"/>
<rect x="571" y="664" width="2" height="6" fill="#000" fill-opacity="0.835"/>
<rect x="790" y="664" width="2" height="6" fill="#000" fill-opacity="0.835"/>
<rect x="1052" y="55" width="6" height="2" fill="#000" fill-opacity="0.835"/>
<rect x="1052" y="130" width="6" height="2" fill="#000" fill-opacity="0.835"/>
<rect x="1052" y="206" width="6" height="2" fill="#000" fill-opacity="0.835"/>
<rect x="1052" y="282" width="6" height="2" fill="#000" fill-opacity="0.835"/>
<rect x="1052" y="358" width="6" height="2" fill="#000" fill-opacity="0.835"/>
<rect x="1052" y="434" width="6" height="2" fill="#000" fill-opacity="0.835"/>
<rect x="1052" y="510" width="6" height="2" fill="#000" fill-opacity="0.835"/>
<rect x="1052" y="586" width="6" height="2" fill="#000" fill-opacity="0.835"/>
<rect x="1052" y="662" width="6" height="2" fill="#000" fill-opacity="0.835"/></g>
<g font-family="Liberation Sans, sans-serif" fill="#000"><text x="221.0" y="43.0" font-size="26.00" textLength="662.0" lengthAdjust="spacingAndGlyphs">Mel Spec. (R) | TGBT - 10 Bells Of Rhymney.flac - bor</text><text x="524.0" y="722.0" font-size="21.87" textLength="52.0" lengthAdjust="spacingAndGlyphs">Time</text><text x="0" y="0" font-size="22.04" textLength="27.0" lengthAdjust="spacingAndGlyphs" transform="translate(41.0,375.0) rotate(-90)">Hz</text><text x="110.0" y="693.0" font-size="22.05" textLength="45.0" lengthAdjust="spacingAndGlyphs">0:00</text><text x="329.0" y="693.0" font-size="22.05" textLength="45.0" lengthAdjust="spacingAndGlyphs">0:50</text><text x="549.0" y="693.0" font-size="22.05" textLength="45.0" lengthAdjust="spacingAndGlyphs">1:40</text><text x="768.0" y="693.0" font-size="22.05" textLength="45.0" lengthAdjust="spacingAndGlyphs">2:30</text><text x="106.0" y="668.0" font-size="22.05" textLength="13.0" lengthAdjust="spacingAndGlyphs">0</text><text x="80.0" y="573.0" font-size="22.05" textLength="37.0" lengthAdjust="spacingAndGlyphs">512</text><text x="66.0" y="479.0" font-size="22.05" textLength="52.0" lengthAdjust="spacingAndGlyphs">1024</text><text x="66.0" y="385.0" font-size="22.05" textLength="51.0" lengthAdjust="spacingAndGlyphs">2048</text><text x="65.0" y="292.0" font-size="22.05" textLength="53.0" lengthAdjust="spacingAndGlyphs">4096</text><text x="66.0" y="199.0" font-size="22.05" textLength="51.0" lengthAdjust="spacingAndGlyphs">8192</text><text x="52.0" y="106.0" font-size="22.05" textLength="65.0" lengthAdjust="spacingAndGlyphs">16384</text><text x="1067.0" y="64.0" font-size="21.87" textLength="63.0" lengthAdjust="spacingAndGlyphs">+0 dB</text><text x="1066.0" y="139.0" font-size="21.87" textLength="68.0" lengthAdjust="spacingAndGlyphs">-10 dB</text><text x="1066.0" y="215.0" font-size="21.87" textLength="68.0" lengthAdjust="spacingAndGlyphs">-20 dB</text><text x="1066.0" y="291.0" font-size="21.87" textLength="68.0" lengthAdjust="spacingAndGlyphs">-30 dB</text><text x="1066.0" y="367.0" font-size="21.87" textLength="68.0" lengthAdjust="spacingAndGlyphs">-40 dB</text><text x="1066.0" y="443.0" font-size="21.87" textLength="68.0" lengthAdjust="spacingAndGlyphs">-50 dB</text><text x="1066.0" y="519.0" font-size="21.87" textLength="68.0" lengthAdjust="spacingAndGlyphs">-60 dB</text><text x="1066.0" y="595.0" font-size="21.87" textLength="68.0" lengthAdjust="spacingAndGlyphs">-70 dB</text><text x="1066.0" y="671.0" font-size="21.87" textLength="67.0" lengthAdjust="spacingAndGlyphs">-80 dB</text></g>
</svg></body></html>
